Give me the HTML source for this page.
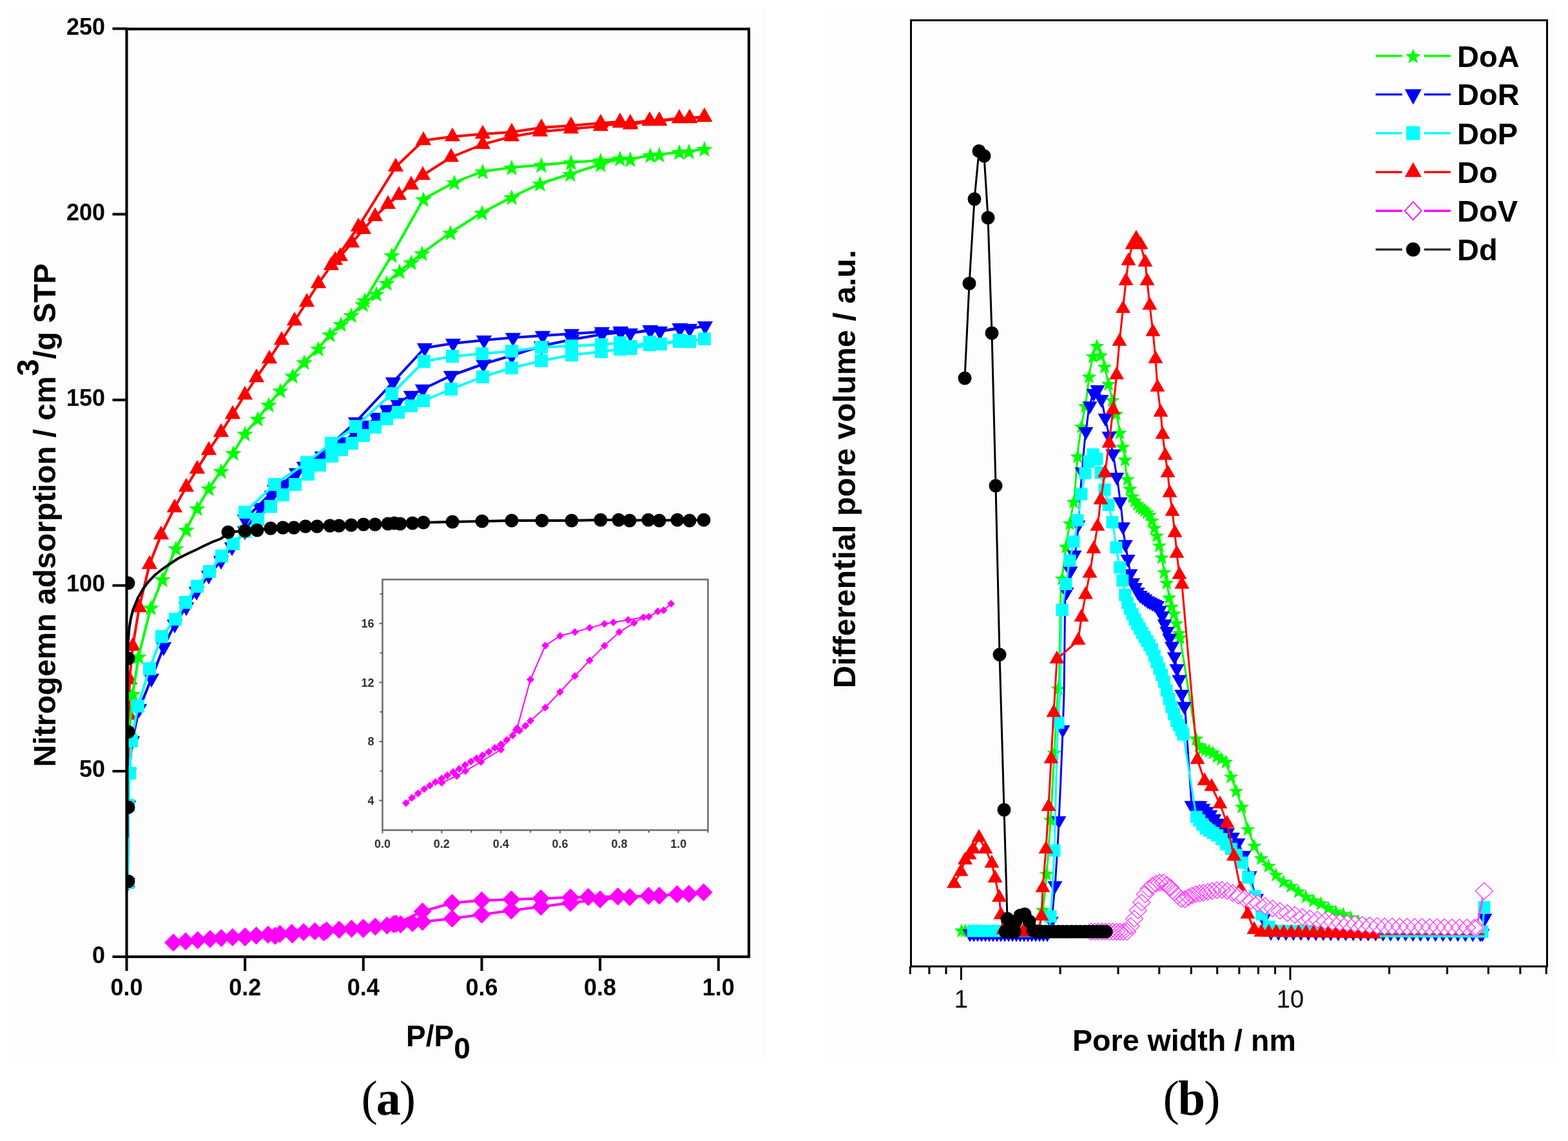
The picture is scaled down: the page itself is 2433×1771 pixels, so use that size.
<!DOCTYPE html>
<html><head><meta charset="utf-8"><title>Figure</title><style>html,body{margin:0;padding:0;background:#fff;}svg{display:block;}</style></head><body>
<svg width="2433" height="1771" viewBox="0 0 2433 1771">
<defs><clipPath id="ca"><rect x="196.5" y="45" width="965.5" height="1440"/></clipPath><clipPath id="cb"><rect x="1413.5" y="31.5" width="987" height="1468.5"/></clipPath><clipPath id="ci"><rect x="593.5" y="899.5" width="505" height="389"/></clipPath></defs>
<rect x="0" y="0" width="2433" height="1771" fill="#ffffff"/>
<rect x="12.6" y="11.2" width="1175.8" height="1633.8" fill="#fdfdfd"/>
<rect x="1277.6" y="11.2" width="1139.4" height="1632.8" fill="#fdfdfd"/>
<g clip-path="url(#ca)">
<path d="M198 1370L199 1200L200 1110L201 1055L206 1003L216 943L232 876L250 830L271 788L289 756L306 728L324 699L343 671L361 643L380 613L398 586L418 557L437 528L457 498L476 469L494 440L514 412L528 398L546 377L564 356L582 336L602 317L619 303L638 287L656 272L700 244L749 224L794 212L838 204.6L886 200L932 196L962 191L978 193.5L1008 188L1023 188L1054 184L1070 184L1093 182 M1093 181L1070 183L1054 183.6L1023 187L1008 187L978 191L962 189L932 191L886 195L840 198L794 205L749 208L702 212L657 218L614 259L556 352L520 404" fill="none" stroke="#ff0000" stroke-width="4" stroke-linejoin="round"/>
<path d="M198 1355.7L210.2 1377.2L185.8 1377.2ZM199 1185.7L211.2 1207.2L186.8 1207.2ZM200 1095.7L212.2 1117.2L187.8 1117.2ZM201 1040.7L213.2 1062.2L188.8 1062.2ZM206 988.7L218.2 1010.2L193.8 1010.2ZM216 928.7L228.2 950.2L203.8 950.2ZM232 861.7L244.2 883.2L219.8 883.2ZM250 815.7L262.2 837.2L237.8 837.2ZM271 773.7L283.2 795.2L258.8 795.2ZM289 741.7L301.2 763.2L276.8 763.2ZM306 713.7L318.2 735.2L293.8 735.2ZM324 684.7L336.2 706.2L311.8 706.2ZM343 656.7L355.2 678.2L330.8 678.2ZM361 628.7L373.2 650.2L348.8 650.2ZM380 598.7L392.2 620.2L367.8 620.2ZM398 571.7L410.2 593.2L385.8 593.2ZM418 542.7L430.2 564.2L405.8 564.2ZM437 513.7L449.2 535.2L424.8 535.2ZM457 483.7L469.2 505.2L444.8 505.2ZM476 454.7L488.2 476.2L463.8 476.2ZM494 425.7L506.2 447.2L481.8 447.2ZM514 397.7L526.2 419.2L501.8 419.2ZM528 383.7L540.2 405.2L515.8 405.2ZM546 362.7L558.2 384.2L533.8 384.2ZM564 341.7L576.2 363.2L551.8 363.2ZM582 321.7L594.2 343.2L569.8 343.2ZM602 302.7L614.2 324.2L589.8 324.2ZM619 288.7L631.2 310.2L606.8 310.2ZM638 272.7L650.2 294.2L625.8 294.2ZM656 257.7L668.2 279.2L643.8 279.2ZM700 229.7L712.2 251.2L687.8 251.2ZM749 209.7L761.2 231.2L736.8 231.2ZM794 197.7L806.2 219.2L781.8 219.2ZM838 190.3L850.2 211.8L825.8 211.8ZM886 185.7L898.2 207.2L873.8 207.2ZM932 181.7L944.2 203.2L919.8 203.2ZM962 176.7L974.2 198.2L949.8 198.2ZM978 179.2L990.2 200.7L965.8 200.7ZM1008 173.7L1020.2 195.2L995.8 195.2ZM1023 173.7L1035.2 195.2L1010.8 195.2ZM1054 169.7L1066.2 191.2L1041.8 191.2ZM1070 169.7L1082.2 191.2L1057.8 191.2ZM1093 167.7L1105.2 189.2L1080.8 189.2ZM1093 166.7L1105.2 188.2L1080.8 188.2ZM1070 168.7L1082.2 190.2L1057.8 190.2ZM1054 169.3L1066.2 190.8L1041.8 190.8ZM1023 172.7L1035.2 194.2L1010.8 194.2ZM1008 172.7L1020.2 194.2L995.8 194.2ZM978 176.7L990.2 198.2L965.8 198.2ZM962 174.7L974.2 196.2L949.8 196.2ZM932 176.7L944.2 198.2L919.8 198.2ZM886 180.7L898.2 202.2L873.8 202.2ZM840 183.7L852.2 205.2L827.8 205.2ZM794 190.7L806.2 212.2L781.8 212.2ZM749 193.7L761.2 215.2L736.8 215.2ZM702 197.7L714.2 219.2L689.8 219.2ZM657 203.7L669.2 225.2L644.8 225.2ZM614 244.7L626.2 266.2L601.8 266.2ZM556 337.7L568.2 359.2L543.8 359.2ZM520 389.7L532.2 411.2L507.8 411.2Z" fill="#ff0000"/>
<path d="M200 1140L206 1077L215 1019L234 943L252 899L273 851L289 822L306 789L324 758L343 731L362 703L380 673L400 650L417 628L435 606L454 583L472 562L494 541L512 519L529 503L545 489L563 472L584 456L600 439L620 421L638 407L655 393L699 361L748 330L794 306L838 285L885 270L932 255L962 246L978 247L1009 241L1023 240L1054 236L1069 235L1093 231 M1093 231L1069 235L1054 236L1023 240L1009 241L978 247L962 246L932 249L886 252L840 256L794 260L749 266L705 283L657 309L608 396L566 466" fill="none" stroke="#00ff00" stroke-width="4" stroke-linejoin="round"/>
<path d="M200 1127.8L203.3 1136.8L212.8 1137.2L205.4 1143.1L207.9 1152.3L200 1147L192.1 1152.3L194.6 1143.1L187.2 1137.2L196.7 1136.8ZM206 1064.8L209.3 1073.8L218.8 1074.2L211.4 1080.1L213.9 1089.3L206 1084L198.1 1089.3L200.6 1080.1L193.2 1074.2L202.7 1073.8ZM215 1006.9L218.3 1015.8L227.8 1016.2L220.4 1022.1L222.9 1031.3L215 1026L207.1 1031.3L209.6 1022.1L202.2 1016.2L211.7 1015.8ZM234 930.9L237.3 939.8L246.8 940.2L239.4 946.1L241.9 955.3L234 950L226.1 955.3L228.6 946.1L221.2 940.2L230.7 939.8ZM252 886.9L255.3 895.8L264.8 896.2L257.4 902.1L259.9 911.3L252 906L244.1 911.3L246.6 902.1L239.2 896.2L248.7 895.8ZM273 838.9L276.3 847.8L285.8 848.2L278.4 854.1L280.9 863.3L273 858L265.1 863.3L267.6 854.1L260.2 848.2L269.7 847.8ZM289 809.9L292.3 818.8L301.8 819.2L294.4 825.1L296.9 834.3L289 829L281.1 834.3L283.6 825.1L276.2 819.2L285.7 818.8ZM306 776.9L309.3 785.8L318.8 786.2L311.4 792.1L313.9 801.3L306 796L298.1 801.3L300.6 792.1L293.2 786.2L302.7 785.8ZM324 745.9L327.3 754.8L336.8 755.2L329.4 761.1L331.9 770.3L324 765L316.1 770.3L318.6 761.1L311.2 755.2L320.7 754.8ZM343 718.9L346.3 727.8L355.8 728.2L348.4 734.1L350.9 743.3L343 738L335.1 743.3L337.6 734.1L330.2 728.2L339.7 727.8ZM362 690.9L365.3 699.8L374.8 700.2L367.4 706.1L369.9 715.3L362 710L354.1 715.3L356.6 706.1L349.2 700.2L358.7 699.8ZM380 660.9L383.3 669.8L392.8 670.2L385.4 676.1L387.9 685.3L380 680L372.1 685.3L374.6 676.1L367.2 670.2L376.7 669.8ZM400 637.9L403.3 646.8L412.8 647.2L405.4 653.1L407.9 662.3L400 657L392.1 662.3L394.6 653.1L387.2 647.2L396.7 646.8ZM417 615.9L420.3 624.8L429.8 625.2L422.4 631.1L424.9 640.3L417 635L409.1 640.3L411.6 631.1L404.2 625.2L413.7 624.8ZM435 593.9L438.3 602.8L447.8 603.2L440.4 609.1L442.9 618.3L435 613L427.1 618.3L429.6 609.1L422.2 603.2L431.7 602.8ZM454 570.9L457.3 579.8L466.8 580.2L459.4 586.1L461.9 595.3L454 590L446.1 595.3L448.6 586.1L441.2 580.2L450.7 579.8ZM472 549.9L475.3 558.8L484.8 559.2L477.4 565.1L479.9 574.3L472 569L464.1 574.3L466.6 565.1L459.2 559.2L468.7 558.8ZM494 528.9L497.3 537.8L506.8 538.2L499.4 544.1L501.9 553.3L494 548L486.1 553.3L488.6 544.1L481.2 538.2L490.7 537.8ZM512 506.9L515.3 515.8L524.8 516.2L517.4 522.1L519.9 531.3L512 526L504.1 531.3L506.6 522.1L499.2 516.2L508.7 515.8ZM529 490.9L532.3 499.8L541.8 500.2L534.4 506.1L536.9 515.3L529 510L521.1 515.3L523.6 506.1L516.2 500.2L525.7 499.8ZM545 476.9L548.3 485.8L557.8 486.2L550.4 492.1L552.9 501.3L545 496L537.1 501.3L539.6 492.1L532.2 486.2L541.7 485.8ZM563 459.9L566.3 468.8L575.8 469.2L568.4 475.1L570.9 484.3L563 479L555.1 484.3L557.6 475.1L550.2 469.2L559.7 468.8ZM584 443.9L587.3 452.8L596.8 453.2L589.4 459.1L591.9 468.3L584 463L576.1 468.3L578.6 459.1L571.2 453.2L580.7 452.8ZM600 426.9L603.3 435.8L612.8 436.2L605.4 442.1L607.9 451.3L600 446L592.1 451.3L594.6 442.1L587.2 436.2L596.7 435.8ZM620 408.9L623.3 417.8L632.8 418.2L625.4 424.1L627.9 433.3L620 428L612.1 433.3L614.6 424.1L607.2 418.2L616.7 417.8ZM638 394.9L641.3 403.8L650.8 404.2L643.4 410.1L645.9 419.3L638 414L630.1 419.3L632.6 410.1L625.2 404.2L634.7 403.8ZM655 380.9L658.3 389.8L667.8 390.2L660.4 396.1L662.9 405.3L655 400L647.1 405.3L649.6 396.1L642.2 390.2L651.7 389.8ZM699 348.9L702.3 357.8L711.8 358.2L704.4 364.1L706.9 373.3L699 368L691.1 373.3L693.6 364.1L686.2 358.2L695.7 357.8ZM748 317.9L751.3 326.8L760.8 327.2L753.4 333.1L755.9 342.3L748 337L740.1 342.3L742.6 333.1L735.2 327.2L744.7 326.8ZM794 293.9L797.3 302.8L806.8 303.2L799.4 309.1L801.9 318.3L794 313L786.1 318.3L788.6 309.1L781.2 303.2L790.7 302.8ZM838 272.9L841.3 281.8L850.8 282.2L843.4 288.1L845.9 297.3L838 292L830.1 297.3L832.6 288.1L825.2 282.2L834.7 281.8ZM885 257.9L888.3 266.8L897.8 267.2L890.4 273.1L892.9 282.3L885 277L877.1 282.3L879.6 273.1L872.2 267.2L881.7 266.8ZM932 242.8L935.3 251.8L944.8 252.2L937.4 258.1L939.9 267.3L932 262L924.1 267.3L926.6 258.1L919.2 252.2L928.7 251.8ZM962 233.8L965.3 242.8L974.8 243.2L967.4 249.1L969.9 258.3L962 253L954.1 258.3L956.6 249.1L949.2 243.2L958.7 242.8ZM978 234.8L981.3 243.8L990.8 244.2L983.4 250.1L985.9 259.3L978 254L970.1 259.3L972.6 250.1L965.2 244.2L974.7 243.8ZM1009 228.8L1012.3 237.8L1021.8 238.2L1014.4 244.1L1016.9 253.3L1009 248L1001.1 253.3L1003.6 244.1L996.2 238.2L1005.7 237.8ZM1023 227.8L1026.3 236.8L1035.8 237.2L1028.4 243.1L1030.9 252.3L1023 247L1015.1 252.3L1017.6 243.1L1010.2 237.2L1019.7 236.8ZM1054 223.8L1057.3 232.8L1066.8 233.2L1059.4 239.1L1061.9 248.3L1054 243L1046.1 248.3L1048.6 239.1L1041.2 233.2L1050.7 232.8ZM1069 222.8L1072.3 231.8L1081.8 232.2L1074.4 238.1L1076.9 247.3L1069 242L1061.1 247.3L1063.6 238.1L1056.2 232.2L1065.7 231.8ZM1093 218.8L1096.3 227.8L1105.8 228.2L1098.4 234.1L1100.9 243.3L1093 238L1085.1 243.3L1087.6 234.1L1080.2 228.2L1089.7 227.8ZM1093 218.8L1096.3 227.8L1105.8 228.2L1098.4 234.1L1100.9 243.3L1093 238L1085.1 243.3L1087.6 234.1L1080.2 228.2L1089.7 227.8ZM1069 222.8L1072.3 231.8L1081.8 232.2L1074.4 238.1L1076.9 247.3L1069 242L1061.1 247.3L1063.6 238.1L1056.2 232.2L1065.7 231.8ZM1054 223.8L1057.3 232.8L1066.8 233.2L1059.4 239.1L1061.9 248.3L1054 243L1046.1 248.3L1048.6 239.1L1041.2 233.2L1050.7 232.8ZM1023 227.8L1026.3 236.8L1035.8 237.2L1028.4 243.1L1030.9 252.3L1023 247L1015.1 252.3L1017.6 243.1L1010.2 237.2L1019.7 236.8ZM1009 228.8L1012.3 237.8L1021.8 238.2L1014.4 244.1L1016.9 253.3L1009 248L1001.1 253.3L1003.6 244.1L996.2 238.2L1005.7 237.8ZM978 234.8L981.3 243.8L990.8 244.2L983.4 250.1L985.9 259.3L978 254L970.1 259.3L972.6 250.1L965.2 244.2L974.7 243.8ZM962 233.8L965.3 242.8L974.8 243.2L967.4 249.1L969.9 258.3L962 253L954.1 258.3L956.6 249.1L949.2 243.2L958.7 242.8ZM932 236.8L935.3 245.8L944.8 246.2L937.4 252.1L939.9 261.3L932 256L924.1 261.3L926.6 252.1L919.2 246.2L928.7 245.8ZM886 239.8L889.3 248.8L898.8 249.2L891.4 255.1L893.9 264.3L886 259L878.1 264.3L880.6 255.1L873.2 249.2L882.7 248.8ZM840 243.8L843.3 252.8L852.8 253.2L845.4 259.1L847.9 268.3L840 263L832.1 268.3L834.6 259.1L827.2 253.2L836.7 252.8ZM794 247.8L797.3 256.8L806.8 257.2L799.4 263.1L801.9 272.3L794 267L786.1 272.3L788.6 263.1L781.2 257.2L790.7 256.8ZM749 253.8L752.3 262.8L761.8 263.2L754.4 269.1L756.9 278.3L749 273L741.1 278.3L743.6 269.1L736.2 263.2L745.7 262.8ZM705 270.9L708.3 279.8L717.8 280.2L710.4 286.1L712.9 295.3L705 290L697.1 295.3L699.6 286.1L692.2 280.2L701.7 279.8ZM657 296.9L660.3 305.8L669.8 306.2L662.4 312.1L664.9 321.3L657 316L649.1 321.3L651.6 312.1L644.2 306.2L653.7 305.8ZM608 383.9L611.3 392.8L620.8 393.2L613.4 399.1L615.9 408.3L608 403L600.1 408.3L602.6 399.1L595.2 393.2L604.7 392.8ZM566 453.9L569.3 462.8L578.8 463.2L571.4 469.1L573.9 478.3L566 473L558.1 478.3L560.6 469.1L553.2 463.2L562.7 462.8Z" fill="#00ff00"/>
<path d="M198 1370L199 1250L200 1200L205 1150L216 1100L235 1053L254 1004L271 969L289 942L305 918L324 893L343 870L360 849L380 824L404 788L422 769L442 752L460 734L480 720L500 708L516 697L532 686L550 672L568 660L584 648L600 636L616 625L638 614L656 604L700 583L750 565L794 552L840 537L887 527L934 519L963 516L978 517L1009 513L1024 514L1055 510L1070 510L1094 506 M1094 506L1070 510L1055 509L1024 514L1009 512L978 517L963 514L934 515L887 518L842 521L796 524L751 528L703 533L659 540L610 593L552 655L518 686L472 724L426 760L380 806" fill="none" stroke="#0000ff" stroke-width="4" stroke-linejoin="round"/>
<path d="M198 1384.3L185.8 1362.8L210.2 1362.8ZM199 1264.3L186.8 1242.8L211.2 1242.8ZM200 1214.3L187.8 1192.8L212.2 1192.8ZM205 1164.3L192.8 1142.8L217.2 1142.8ZM216 1114.3L203.8 1092.8L228.2 1092.8ZM235 1067.3L222.8 1045.8L247.2 1045.8ZM254 1018.3L241.8 996.8L266.2 996.8ZM271 983.3L258.8 961.8L283.2 961.8ZM289 956.3L276.8 934.8L301.2 934.8ZM305 932.3L292.8 910.8L317.2 910.8ZM324 907.3L311.8 885.8L336.2 885.8ZM343 884.3L330.8 862.8L355.2 862.8ZM360 863.3L347.8 841.8L372.2 841.8ZM380 838.3L367.8 816.8L392.2 816.8ZM404 802.3L391.8 780.8L416.2 780.8ZM422 783.3L409.8 761.8L434.2 761.8ZM442 766.3L429.8 744.8L454.2 744.8ZM460 748.3L447.8 726.8L472.2 726.8ZM480 734.3L467.8 712.8L492.2 712.8ZM500 722.3L487.8 700.8L512.2 700.8ZM516 711.3L503.8 689.8L528.2 689.8ZM532 700.3L519.8 678.8L544.2 678.8ZM550 686.3L537.8 664.8L562.2 664.8ZM568 674.3L555.8 652.8L580.2 652.8ZM584 662.3L571.8 640.8L596.2 640.8ZM600 650.3L587.8 628.8L612.2 628.8ZM616 639.3L603.8 617.8L628.2 617.8ZM638 628.3L625.8 606.8L650.2 606.8ZM656 618.3L643.8 596.8L668.2 596.8ZM700 597.3L687.8 575.8L712.2 575.8ZM750 579.3L737.8 557.8L762.2 557.8ZM794 566.3L781.8 544.8L806.2 544.8ZM840 551.3L827.8 529.8L852.2 529.8ZM887 541.3L874.8 519.8L899.2 519.8ZM934 533.3L921.8 511.8L946.2 511.8ZM963 530.3L950.8 508.8L975.2 508.8ZM978 531.3L965.8 509.8L990.2 509.8ZM1009 527.3L996.8 505.8L1021.2 505.8ZM1024 528.3L1011.8 506.8L1036.2 506.8ZM1055 524.3L1042.8 502.8L1067.2 502.8ZM1070 524.3L1057.8 502.8L1082.2 502.8ZM1094 520.3L1081.8 498.8L1106.2 498.8ZM1094 520.3L1081.8 498.8L1106.2 498.8ZM1070 524.3L1057.8 502.8L1082.2 502.8ZM1055 523.3L1042.8 501.8L1067.2 501.8ZM1024 528.3L1011.8 506.8L1036.2 506.8ZM1009 526.3L996.8 504.8L1021.2 504.8ZM978 531.3L965.8 509.8L990.2 509.8ZM963 528.3L950.8 506.8L975.2 506.8ZM934 529.3L921.8 507.8L946.2 507.8ZM887 532.3L874.8 510.8L899.2 510.8ZM842 535.3L829.8 513.8L854.2 513.8ZM796 538.3L783.8 516.8L808.2 516.8ZM751 542.3L738.8 520.8L763.2 520.8ZM703 547.3L690.8 525.8L715.2 525.8ZM659 554.3L646.8 532.8L671.2 532.8ZM610 607.3L597.8 585.8L622.2 585.8ZM552 669.3L539.8 647.8L564.2 647.8ZM518 700.3L505.8 678.8L530.2 678.8ZM472 738.3L459.8 716.8L484.2 716.8ZM426 774.3L413.8 752.8L438.2 752.8ZM380 820.3L367.8 798.8L392.2 798.8Z" fill="#0000ff"/>
<path d="M198 1370L199 1250L201 1200L204 1150L214 1096L232 1038L251 988L272 961L288 935L306 910L325 887L344 863L362 844L380 825L400 806L420 786L439 768L458 752L478 736L496 722L515 708L530 698L546 688L564 676L582 663L600 650L618 640L638 630L657 622L700 604L749 585L794 571L840 560L887 551L933 546L962 542L979 541L1008 535L1025 534L1054 530L1070 530L1093 526 M1093 526L1070 530L1054 528L1025 534L1008 531L979 538L962 532L933 535L887 537L840 539L794 545L748 549L702 553L658 561L608 611L552 662L514 688L476 718L426 752L380 795" fill="none" stroke="#00ffff" stroke-width="4" stroke-linejoin="round"/>
<path d="M188 1360h20v20h-20ZM189 1240h20v20h-20ZM191 1190h20v20h-20ZM194 1140h20v20h-20ZM204 1086h20v20h-20ZM222 1028h20v20h-20ZM241 978h20v20h-20ZM262 951h20v20h-20ZM278 925h20v20h-20ZM296 900h20v20h-20ZM315 877h20v20h-20ZM334 853h20v20h-20ZM352 834h20v20h-20ZM370 815h20v20h-20ZM390 796h20v20h-20ZM410 776h20v20h-20ZM429 758h20v20h-20ZM448 742h20v20h-20ZM468 726h20v20h-20ZM486 712h20v20h-20ZM505 698h20v20h-20ZM520 688h20v20h-20ZM536 678h20v20h-20ZM554 666h20v20h-20ZM572 653h20v20h-20ZM590 640h20v20h-20ZM608 630h20v20h-20ZM628 620h20v20h-20ZM647 612h20v20h-20ZM690 594h20v20h-20ZM739 575h20v20h-20ZM784 561h20v20h-20ZM830 550h20v20h-20ZM877 541h20v20h-20ZM923 536h20v20h-20ZM952 532h20v20h-20ZM969 531h20v20h-20ZM998 525h20v20h-20ZM1015 524h20v20h-20ZM1044 520h20v20h-20ZM1060 520h20v20h-20ZM1083 516h20v20h-20ZM1083 516h20v20h-20ZM1060 520h20v20h-20ZM1044 518h20v20h-20ZM1015 524h20v20h-20ZM998 521h20v20h-20ZM969 528h20v20h-20ZM952 522h20v20h-20ZM923 525h20v20h-20ZM877 527h20v20h-20ZM830 529h20v20h-20ZM784 535h20v20h-20ZM738 539h20v20h-20ZM692 543h20v20h-20ZM648 551h20v20h-20ZM598 601h20v20h-20ZM542 652h20v20h-20ZM504 678h20v20h-20ZM466 708h20v20h-20ZM416 742h20v20h-20ZM370 785h20v20h-20Z" fill="#00ffff"/>
<path d="M269 1463L288 1460.9L306.7 1459.2L326 1457.5L343.4 1456.1L360.9 1454.7L380.2 1453.4L397.6 1452.2L416 1450.8L434.3 1449.6L452.7 1448.1L471.1 1446.7L488.5 1445.5L506.9 1444.3L526.2 1442.9L545.5 1441.4L563.8 1440L582.2 1438.3L600.6 1436.5L610.7 1434.5L621.7 1434.7L640 1432.7L655.6 1430.8L701.6 1425.7L747.5 1419.5L793.4 1413.3L839.3 1407.2L885.2 1401.5L931.1 1396.1L977.1 1392.6L1006.4 1390.4L1023 1390.2L1050.5 1388.1L1068.9 1387.6L1091.8 1385 M1091.8 1385L1068.9 1387.6L1050.5 1388.1L1023 1390.2L1006.4 1390.4L958.7 1391.4L912.8 1392.3L885.2 1392.9L839.3 1394.5L793.4 1396.1L747.5 1397.6L701.6 1401.5L655.6 1414.7L614.3 1433.7L563.8 1442.1L502.3 1446.9L453.6 1450.4L427 1452.4L380.2 1455" fill="none" stroke="#ff00ff" stroke-width="4" stroke-linejoin="round"/>
<path d="M269 1449L283 1463L269 1477L255 1463ZM288 1446.9L302 1460.9L288 1474.9L274 1460.9ZM306.7 1445.2L320.7 1459.2L306.7 1473.2L292.7 1459.2ZM326 1443.5L340 1457.5L326 1471.5L312 1457.5ZM343.4 1442.1L357.4 1456.1L343.4 1470.1L329.4 1456.1ZM360.9 1440.7L374.9 1454.7L360.9 1468.7L346.9 1454.7ZM380.2 1439.4L394.2 1453.4L380.2 1467.4L366.2 1453.4ZM397.6 1438.2L411.6 1452.2L397.6 1466.2L383.6 1452.2ZM416 1436.8L430 1450.8L416 1464.8L402 1450.8ZM434.3 1435.6L448.3 1449.6L434.3 1463.6L420.3 1449.6ZM452.7 1434.1L466.7 1448.1L452.7 1462.1L438.7 1448.1ZM471.1 1432.7L485.1 1446.7L471.1 1460.7L457.1 1446.7ZM488.5 1431.5L502.5 1445.5L488.5 1459.5L474.5 1445.5ZM506.9 1430.3L520.9 1444.3L506.9 1458.3L492.9 1444.3ZM526.2 1428.9L540.2 1442.9L526.2 1456.9L512.2 1442.9ZM545.5 1427.4L559.5 1441.4L545.5 1455.4L531.5 1441.4ZM563.8 1426L577.8 1440L563.8 1454L549.8 1440ZM582.2 1424.3L596.2 1438.3L582.2 1452.3L568.2 1438.3ZM600.6 1422.5L614.6 1436.5L600.6 1450.5L586.6 1436.5ZM610.7 1420.5L624.7 1434.5L610.7 1448.5L596.7 1434.5ZM621.7 1420.7L635.7 1434.7L621.7 1448.7L607.7 1434.7ZM640 1418.7L654 1432.7L640 1446.7L626 1432.7ZM655.6 1416.8L669.6 1430.8L655.6 1444.8L641.6 1430.8ZM701.6 1411.7L715.6 1425.7L701.6 1439.7L687.6 1425.7ZM747.5 1405.5L761.5 1419.5L747.5 1433.5L733.5 1419.5ZM793.4 1399.3L807.4 1413.3L793.4 1427.3L779.4 1413.3ZM839.3 1393.2L853.3 1407.2L839.3 1421.2L825.3 1407.2ZM885.2 1387.5L899.2 1401.5L885.2 1415.5L871.2 1401.5ZM931.1 1382.1L945.1 1396.1L931.1 1410.1L917.1 1396.1ZM977.1 1378.6L991.1 1392.6L977.1 1406.6L963.1 1392.6ZM1006.4 1376.4L1020.4 1390.4L1006.4 1404.4L992.4 1390.4ZM1023 1376.2L1037 1390.2L1023 1404.2L1009 1390.2ZM1050.5 1374.1L1064.5 1388.1L1050.5 1402.1L1036.5 1388.1ZM1068.9 1373.6L1082.9 1387.6L1068.9 1401.6L1054.9 1387.6ZM1091.8 1371L1105.8 1385L1091.8 1399L1077.8 1385ZM1091.8 1371L1105.8 1385L1091.8 1399L1077.8 1385ZM1068.9 1373.6L1082.9 1387.6L1068.9 1401.6L1054.9 1387.6ZM1050.5 1374.1L1064.5 1388.1L1050.5 1402.1L1036.5 1388.1ZM1023 1376.2L1037 1390.2L1023 1404.2L1009 1390.2ZM1006.4 1376.4L1020.4 1390.4L1006.4 1404.4L992.4 1390.4ZM958.7 1377.4L972.7 1391.4L958.7 1405.4L944.7 1391.4ZM912.8 1378.3L926.8 1392.3L912.8 1406.3L898.8 1392.3ZM885.2 1378.9L899.2 1392.9L885.2 1406.9L871.2 1392.9ZM839.3 1380.5L853.3 1394.5L839.3 1408.5L825.3 1394.5ZM793.4 1382.1L807.4 1396.1L793.4 1410.1L779.4 1396.1ZM747.5 1383.6L761.5 1397.6L747.5 1411.6L733.5 1397.6ZM701.6 1387.5L715.6 1401.5L701.6 1415.5L687.6 1401.5ZM655.6 1400.7L669.6 1414.7L655.6 1428.7L641.6 1414.7ZM614.3 1419.7L628.3 1433.7L614.3 1447.7L600.3 1433.7ZM563.8 1428.1L577.8 1442.1L563.8 1456.1L549.8 1442.1ZM502.3 1432.9L516.3 1446.9L502.3 1460.9L488.3 1446.9ZM453.6 1436.4L467.6 1450.4L453.6 1464.4L439.6 1450.4ZM427 1438.4L441 1452.4L427 1466.4L413 1452.4ZM380.2 1441L394.2 1455L380.2 1469L366.2 1455Z" fill="#ff00ff"/>
<path d="M197.5 1300L197.6 1100L197.8 1040L198.5 1000L200.5 975L203 960L206.5 946L214 928L222 914L231 902L241 892L251 884L261 877L276 867L292 859L305 853L317 847L330 841L343 836L354 827L354 826L380 824L399 823L420 820L439 819L456 819L474 817L492 817L512 816L526 816L545 815L564 814L582 814L602 813L612 812L621 813L640 812L657 811L702 810L748 809L794 808L841 808L887 808L932 807L960 807L977 808L1006 807L1023 808L1051 807L1070 808L1092 807" fill="none" stroke="#000" stroke-width="4"/>
<path d="M343.5 826a10.5 10.5 0 1 0 21 0a10.5 10.5 0 1 0 -21 0ZM369.5 824a10.5 10.5 0 1 0 21 0a10.5 10.5 0 1 0 -21 0ZM388.5 823a10.5 10.5 0 1 0 21 0a10.5 10.5 0 1 0 -21 0ZM409.5 820a10.5 10.5 0 1 0 21 0a10.5 10.5 0 1 0 -21 0ZM428.5 819a10.5 10.5 0 1 0 21 0a10.5 10.5 0 1 0 -21 0ZM445.5 819a10.5 10.5 0 1 0 21 0a10.5 10.5 0 1 0 -21 0ZM463.5 817a10.5 10.5 0 1 0 21 0a10.5 10.5 0 1 0 -21 0ZM481.5 817a10.5 10.5 0 1 0 21 0a10.5 10.5 0 1 0 -21 0ZM501.5 816a10.5 10.5 0 1 0 21 0a10.5 10.5 0 1 0 -21 0ZM515.5 816a10.5 10.5 0 1 0 21 0a10.5 10.5 0 1 0 -21 0ZM534.5 815a10.5 10.5 0 1 0 21 0a10.5 10.5 0 1 0 -21 0ZM553.5 814a10.5 10.5 0 1 0 21 0a10.5 10.5 0 1 0 -21 0ZM571.5 814a10.5 10.5 0 1 0 21 0a10.5 10.5 0 1 0 -21 0ZM591.5 813a10.5 10.5 0 1 0 21 0a10.5 10.5 0 1 0 -21 0ZM601.5 812a10.5 10.5 0 1 0 21 0a10.5 10.5 0 1 0 -21 0ZM610.5 813a10.5 10.5 0 1 0 21 0a10.5 10.5 0 1 0 -21 0ZM629.5 812a10.5 10.5 0 1 0 21 0a10.5 10.5 0 1 0 -21 0ZM646.5 811a10.5 10.5 0 1 0 21 0a10.5 10.5 0 1 0 -21 0ZM691.5 810a10.5 10.5 0 1 0 21 0a10.5 10.5 0 1 0 -21 0ZM737.5 809a10.5 10.5 0 1 0 21 0a10.5 10.5 0 1 0 -21 0ZM783.5 808a10.5 10.5 0 1 0 21 0a10.5 10.5 0 1 0 -21 0ZM830.5 808a10.5 10.5 0 1 0 21 0a10.5 10.5 0 1 0 -21 0ZM876.5 808a10.5 10.5 0 1 0 21 0a10.5 10.5 0 1 0 -21 0ZM921.5 807a10.5 10.5 0 1 0 21 0a10.5 10.5 0 1 0 -21 0ZM949.5 807a10.5 10.5 0 1 0 21 0a10.5 10.5 0 1 0 -21 0ZM966.5 808a10.5 10.5 0 1 0 21 0a10.5 10.5 0 1 0 -21 0ZM995.5 807a10.5 10.5 0 1 0 21 0a10.5 10.5 0 1 0 -21 0ZM1012.5 808a10.5 10.5 0 1 0 21 0a10.5 10.5 0 1 0 -21 0ZM1040.5 807a10.5 10.5 0 1 0 21 0a10.5 10.5 0 1 0 -21 0ZM1059.5 808a10.5 10.5 0 1 0 21 0a10.5 10.5 0 1 0 -21 0ZM1081.5 807a10.5 10.5 0 1 0 21 0a10.5 10.5 0 1 0 -21 0ZM188.5 1368a10.5 10.5 0 1 0 21 0a10.5 10.5 0 1 0 -21 0ZM188.5 1253a10.5 10.5 0 1 0 21 0a10.5 10.5 0 1 0 -21 0ZM188.5 1136a10.5 10.5 0 1 0 21 0a10.5 10.5 0 1 0 -21 0ZM188.5 1022a10.5 10.5 0 1 0 21 0a10.5 10.5 0 1 0 -21 0ZM188.5 905a10.5 10.5 0 1 0 21 0a10.5 10.5 0 1 0 -21 0Z" fill="#000"/>
</g>
<rect x="196.5" y="45" width="965.5" height="1440" fill="none" stroke="#000" stroke-width="4.2"/>
<path d="M174.5 1485H196.5M174.5 1196.9H196.5M174.5 908.8H196.5M174.5 620.7H196.5M174.5 332.6H196.5M174.5 44.5H196.5M196.5 1485V1507M380.2 1485V1507M563.8 1485V1507M747.5 1485V1507M931.1 1485V1507M1114.8 1485V1507" stroke="#000" stroke-width="4" fill="none"/>
<text x="163" y="1494.5" text-anchor="end" font-family="'Liberation Sans', Arial, Helvetica, sans-serif" font-weight="bold" font-size="36">0</text>
<text x="163" y="1206.4" text-anchor="end" font-family="'Liberation Sans', Arial, Helvetica, sans-serif" font-weight="bold" font-size="36">50</text>
<text x="163" y="918.3" text-anchor="end" font-family="'Liberation Sans', Arial, Helvetica, sans-serif" font-weight="bold" font-size="36">100</text>
<text x="163" y="630.2" text-anchor="end" font-family="'Liberation Sans', Arial, Helvetica, sans-serif" font-weight="bold" font-size="36">150</text>
<text x="163" y="342.1" text-anchor="end" font-family="'Liberation Sans', Arial, Helvetica, sans-serif" font-weight="bold" font-size="36">200</text>
<text x="163" y="54" text-anchor="end" font-family="'Liberation Sans', Arial, Helvetica, sans-serif" font-weight="bold" font-size="36">250</text>
<text x="196.5" y="1545" text-anchor="middle" font-family="'Liberation Sans', Arial, Helvetica, sans-serif" font-weight="bold" font-size="36">0.0</text>
<text x="380.2" y="1545" text-anchor="middle" font-family="'Liberation Sans', Arial, Helvetica, sans-serif" font-weight="bold" font-size="36">0.2</text>
<text x="563.8" y="1545" text-anchor="middle" font-family="'Liberation Sans', Arial, Helvetica, sans-serif" font-weight="bold" font-size="36">0.4</text>
<text x="747.5" y="1545" text-anchor="middle" font-family="'Liberation Sans', Arial, Helvetica, sans-serif" font-weight="bold" font-size="36">0.6</text>
<text x="931.1" y="1545" text-anchor="middle" font-family="'Liberation Sans', Arial, Helvetica, sans-serif" font-weight="bold" font-size="36">0.8</text>
<text x="1114.8" y="1545" text-anchor="middle" font-family="'Liberation Sans', Arial, Helvetica, sans-serif" font-weight="bold" font-size="36">1.0</text>
<text x="630" y="1624" font-family="'Liberation Sans', Arial, Helvetica, sans-serif" font-weight="bold" font-size="46">P/P<tspan dy="19">0</tspan></text>
<text transform="translate(86 1190.5) rotate(-90)" x="0" y="0" font-family="'Liberation Sans', Arial, Helvetica, sans-serif" font-weight="bold" font-size="47.7">Nitrogemn adsorption / cm<tspan dy="-26.5">3</tspan><tspan dy="26.5">/g STP</tspan></text>
<text x="601.8" y="1729.5" text-anchor="middle" font-family="'Liberation Serif', 'Times New Roman', serif" font-size="76" letter-spacing="-2">(<tspan font-weight="bold">a</tspan>)</text>
<rect x="593.5" y="899.5" width="505" height="389" fill="none" stroke="#707070" stroke-width="2.6"/>
<path d="M588.5 1242.4H593.5M589.5 1196.7H593.5M588.5 1150.9H593.5M589.5 1105.1H593.5M588.5 1059.3H593.5M589.5 1013.5H593.5M588.5 967.8H593.5M589.5 922H593.5M593.5 1288.5V1293.5M639.4 1288.5V1292.5M685.3 1288.5V1293.5M731.3 1288.5V1292.5M777.2 1288.5V1293.5M823.1 1288.5V1292.5M869 1288.5V1293.5M914.9 1288.5V1292.5M960.9 1288.5V1293.5M1006.8 1288.5V1292.5M1052.7 1288.5V1293.5M1098.6 1288.5V1292.5" stroke="#606060" stroke-width="2" fill="none"/>
<text x="580.5" y="1248.9" text-anchor="end" font-family="'Liberation Sans', Arial, Helvetica, sans-serif" font-weight="bold" font-size="18" fill="#303030">4</text>
<text x="580.5" y="1157.4" text-anchor="end" font-family="'Liberation Sans', Arial, Helvetica, sans-serif" font-weight="bold" font-size="18" fill="#303030">8</text>
<text x="580.5" y="1065.8" text-anchor="end" font-family="'Liberation Sans', Arial, Helvetica, sans-serif" font-weight="bold" font-size="18" fill="#303030">12</text>
<text x="580.5" y="974.3" text-anchor="end" font-family="'Liberation Sans', Arial, Helvetica, sans-serif" font-weight="bold" font-size="18" fill="#303030">16</text>
<text x="593.5" y="1316" text-anchor="middle" font-family="'Liberation Sans', Arial, Helvetica, sans-serif" font-weight="bold" font-size="18" fill="#303030">0.0</text>
<text x="685.3" y="1316" text-anchor="middle" font-family="'Liberation Sans', Arial, Helvetica, sans-serif" font-weight="bold" font-size="18" fill="#303030">0.2</text>
<text x="777.2" y="1316" text-anchor="middle" font-family="'Liberation Sans', Arial, Helvetica, sans-serif" font-weight="bold" font-size="18" fill="#303030">0.4</text>
<text x="869" y="1316" text-anchor="middle" font-family="'Liberation Sans', Arial, Helvetica, sans-serif" font-weight="bold" font-size="18" fill="#303030">0.6</text>
<text x="960.9" y="1316" text-anchor="middle" font-family="'Liberation Sans', Arial, Helvetica, sans-serif" font-weight="bold" font-size="18" fill="#303030">0.8</text>
<text x="1052.7" y="1316" text-anchor="middle" font-family="'Liberation Sans', Arial, Helvetica, sans-serif" font-weight="bold" font-size="18" fill="#303030">1.0</text>
<g clip-path="url(#ci)">
<path d="M629.8 1246.6L639.2 1238.3L648.6 1231.5L658.2 1224.8L667 1219.3L675.7 1213.8L685.3 1208.3L694.1 1203.5L703.2 1198.3L712.4 1193.5L721.6 1187.5L730.8 1182L739.5 1177L748.7 1172.4L758.4 1166.9L768 1160.7L777.2 1155.2L786.4 1148.4L795.5 1141.5L800.6 1133.3L806.1 1134.2L815.3 1126.4L823.1 1118.8L846.1 1098.2L869 1074L892 1049.2L914.9 1025L937.9 1002.3L960.9 981L983.8 966.8L998.5 958.1L1006.8 957.2L1020.6 949L1029.7 947.2L1041.2 936.9 M1041.2 936.9L1029.7 947.2L1020.6 949L1006.8 957.2L998.5 958.1L974.6 962.3L951.7 965.9L937.9 968.2L914.9 974.6L892 981L869 987L846.1 1002.1L823.1 1054.7L802.4 1130.3L777.2 1163.5L746.4 1182.5L722.1 1196.7L708.8 1204.4L685.3 1215" fill="none" stroke="#ff00ff" stroke-width="2"/>
<path d="M629.8 1240.6L635.8 1246.6L629.8 1252.6L623.8 1246.6ZM639.2 1232.3L645.2 1238.3L639.2 1244.3L633.2 1238.3ZM648.6 1225.5L654.6 1231.5L648.6 1237.5L642.6 1231.5ZM658.2 1218.8L664.2 1224.8L658.2 1230.8L652.2 1224.8ZM667 1213.3L673 1219.3L667 1225.3L661 1219.3ZM675.7 1207.8L681.7 1213.8L675.7 1219.8L669.7 1213.8ZM685.3 1202.3L691.3 1208.3L685.3 1214.3L679.3 1208.3ZM694.1 1197.5L700.1 1203.5L694.1 1209.5L688.1 1203.5ZM703.2 1192.3L709.2 1198.3L703.2 1204.3L697.2 1198.3ZM712.4 1187.5L718.4 1193.5L712.4 1199.5L706.4 1193.5ZM721.6 1181.5L727.6 1187.5L721.6 1193.5L715.6 1187.5ZM730.8 1176L736.8 1182L730.8 1188L724.8 1182ZM739.5 1171L745.5 1177L739.5 1183L733.5 1177ZM748.7 1166.4L754.7 1172.4L748.7 1178.4L742.7 1172.4ZM758.4 1160.9L764.4 1166.9L758.4 1172.9L752.4 1166.9ZM768 1154.7L774 1160.7L768 1166.7L762 1160.7ZM777.2 1149.2L783.2 1155.2L777.2 1161.2L771.2 1155.2ZM786.4 1142.4L792.4 1148.4L786.4 1154.4L780.4 1148.4ZM795.5 1135.5L801.5 1141.5L795.5 1147.5L789.5 1141.5ZM800.6 1127.3L806.6 1133.3L800.6 1139.3L794.6 1133.3ZM806.1 1128.2L812.1 1134.2L806.1 1140.2L800.1 1134.2ZM815.3 1120.4L821.3 1126.4L815.3 1132.4L809.3 1126.4ZM823.1 1112.8L829.1 1118.8L823.1 1124.8L817.1 1118.8ZM846.1 1092.2L852.1 1098.2L846.1 1104.2L840.1 1098.2ZM869 1068L875 1074L869 1080L863 1074ZM892 1043.2L898 1049.2L892 1055.2L886 1049.2ZM914.9 1019L920.9 1025L914.9 1031L908.9 1025ZM937.9 996.3L943.9 1002.3L937.9 1008.3L931.9 1002.3ZM960.9 975L966.9 981L960.9 987L954.9 981ZM983.8 960.8L989.8 966.8L983.8 972.8L977.8 966.8ZM998.5 952.1L1004.5 958.1L998.5 964.1L992.5 958.1ZM1006.8 951.2L1012.8 957.2L1006.8 963.2L1000.8 957.2ZM1020.6 943L1026.6 949L1020.6 955L1014.6 949ZM1029.7 941.2L1035.7 947.2L1029.7 953.2L1023.7 947.2ZM1041.2 930.9L1047.2 936.9L1041.2 942.9L1035.2 936.9ZM1041.2 930.9L1047.2 936.9L1041.2 942.9L1035.2 936.9ZM1029.7 941.2L1035.7 947.2L1029.7 953.2L1023.7 947.2ZM1020.6 943L1026.6 949L1020.6 955L1014.6 949ZM1006.8 951.2L1012.8 957.2L1006.8 963.2L1000.8 957.2ZM998.5 952.1L1004.5 958.1L998.5 964.1L992.5 958.1ZM974.6 956.3L980.6 962.3L974.6 968.3L968.6 962.3ZM951.7 959.9L957.7 965.9L951.7 971.9L945.7 965.9ZM937.9 962.2L943.9 968.2L937.9 974.2L931.9 968.2ZM914.9 968.6L920.9 974.6L914.9 980.6L908.9 974.6ZM892 975L898 981L892 987L886 981ZM869 981L875 987L869 993L863 987ZM846.1 996.1L852.1 1002.1L846.1 1008.1L840.1 1002.1ZM823.1 1048.7L829.1 1054.7L823.1 1060.7L817.1 1054.7ZM802.4 1124.3L808.4 1130.3L802.4 1136.3L796.4 1130.3ZM777.2 1157.5L783.2 1163.5L777.2 1169.5L771.2 1163.5ZM746.4 1176.5L752.4 1182.5L746.4 1188.5L740.4 1182.5ZM722.1 1190.7L728.1 1196.7L722.1 1202.7L716.1 1196.7ZM708.8 1198.4L714.8 1204.4L708.8 1210.4L702.8 1204.4ZM685.3 1209L691.3 1215L685.3 1221L679.3 1215Z" fill="#ff00ff"/>
</g>
<g clip-path="url(#cb)">
<path d="M1492 1444L1612 1446L1617 1420L1622 1380L1627 1320L1632 1240L1637 1150L1641 1080L1643.6 1050L1645 960L1646 914L1655 840L1667 773L1673 695L1679 655L1685 625L1691 576L1697 548L1703.6 533L1707 549L1712 560L1716 578L1721 600L1727 625L1733.5 647L1739 680L1745.4 709L1747.2 734L1752.6 756L1758 773L1767 785L1776 791L1785 800L1791 818L1796 834L1800 851L1803.5 869L1807 891L1811 907L1815 933L1822 953L1827 973L1831 989L1856 1146L1862 1160L1869 1163L1880 1166L1889 1174L1902 1181L1905 1192L1914.5 1217L1927 1252L1936 1286L1948.5 1318L1959 1335L1972 1347L1982 1360L1995 1371L2008 1377L2020 1388L2035 1396L2050 1402L2065 1411L2078 1417L2088 1419L2100 1426L2115 1433L2130 1438L2160 1442L2300 1444" fill="none" stroke="#00ff00" stroke-width="3" stroke-linejoin="round"/>
<path d="M1492 1433.2L1495 1441.1L1503.4 1441.5L1496.8 1446.8L1499.1 1454.9L1492 1450.2L1484.9 1454.9L1487.2 1446.8L1480.6 1441.5L1489 1441.1ZM1498 1433.3L1501 1441.2L1509.4 1441.6L1502.8 1446.9L1505.1 1455L1498 1450.3L1490.9 1455L1493.2 1446.9L1486.6 1441.6L1495 1441.2ZM1504 1433.4L1507 1441.3L1515.4 1441.7L1508.8 1447L1511.1 1455.1L1504 1450.4L1496.9 1455.1L1499.2 1447L1492.6 1441.7L1501 1441.3ZM1510 1433.5L1513 1441.4L1521.4 1441.8L1514.8 1447.1L1517.1 1455.2L1510 1450.5L1502.9 1455.2L1505.2 1447.1L1498.6 1441.8L1507 1441.4ZM1516 1433.6L1519 1441.5L1527.4 1441.9L1520.8 1447.2L1523.1 1455.3L1516 1450.6L1508.9 1455.3L1511.2 1447.2L1504.6 1441.9L1513 1441.5ZM1522 1433.7L1525 1441.6L1533.4 1442L1526.8 1447.3L1529.1 1455.4L1522 1450.7L1514.9 1455.4L1517.2 1447.3L1510.6 1442L1519 1441.6ZM1528 1433.8L1531 1441.7L1539.4 1442.1L1532.8 1447.4L1535.1 1455.5L1528 1450.8L1520.9 1455.5L1523.2 1447.4L1516.6 1442.1L1525 1441.7ZM1534 1433.9L1537 1441.8L1545.4 1442.2L1538.8 1447.5L1541.1 1455.6L1534 1450.9L1526.9 1455.6L1529.2 1447.5L1522.6 1442.2L1531 1441.8ZM1540 1434L1543 1441.9L1551.4 1442.3L1544.8 1447.6L1547.1 1455.7L1540 1451L1532.9 1455.7L1535.2 1447.6L1528.6 1442.3L1537 1441.9ZM1546 1434.1L1549 1442L1557.4 1442.4L1550.8 1447.7L1553.1 1455.8L1546 1451.1L1538.9 1455.8L1541.2 1447.7L1534.6 1442.4L1543 1442ZM1552 1434.2L1555 1442.1L1563.4 1442.5L1556.8 1447.8L1559.1 1455.9L1552 1451.2L1544.9 1455.9L1547.2 1447.8L1540.6 1442.5L1549 1442.1ZM1558 1434.3L1561 1442.2L1569.4 1442.6L1562.8 1447.9L1565.1 1456L1558 1451.3L1550.9 1456L1553.2 1447.9L1546.6 1442.6L1555 1442.2ZM1564 1434.4L1567 1442.3L1575.4 1442.7L1568.8 1448L1571.1 1456.1L1564 1451.4L1556.9 1456.1L1559.2 1448L1552.6 1442.7L1561 1442.3ZM1570 1434.5L1573 1442.4L1581.4 1442.8L1574.8 1448.1L1577.1 1456.2L1570 1451.5L1562.9 1456.2L1565.2 1448.1L1558.6 1442.8L1567 1442.4ZM1576 1434.6L1579 1442.5L1587.4 1442.9L1580.8 1448.2L1583.1 1456.3L1576 1451.6L1568.9 1456.3L1571.2 1448.2L1564.6 1442.9L1573 1442.5ZM1582 1434.7L1585 1442.6L1593.4 1443L1586.8 1448.3L1589.1 1456.4L1582 1451.7L1574.9 1456.4L1577.2 1448.3L1570.6 1443L1579 1442.6ZM1588 1434.8L1591 1442.7L1599.4 1443.1L1592.8 1448.4L1595.1 1456.5L1588 1451.8L1580.9 1456.5L1583.2 1448.4L1576.6 1443.1L1585 1442.7ZM1594 1434.9L1597 1442.8L1605.4 1443.2L1598.8 1448.5L1601.1 1456.6L1594 1451.9L1586.9 1456.6L1589.2 1448.5L1582.6 1443.2L1591 1442.8ZM1600 1435L1603 1442.9L1611.4 1443.3L1604.8 1448.6L1607.1 1456.7L1600 1452L1592.9 1456.7L1595.2 1448.6L1588.6 1443.3L1597 1442.9ZM1606 1435.1L1609 1443L1617.4 1443.4L1610.8 1448.7L1613.1 1456.8L1606 1452.1L1598.9 1456.8L1601.2 1448.7L1594.6 1443.4L1603 1443ZM1612 1435.2L1615 1443.1L1623.4 1443.5L1616.8 1448.8L1619.1 1456.9L1612 1452.2L1604.9 1456.9L1607.2 1448.8L1600.6 1443.5L1609 1443.1ZM1618 1401.2L1621 1409.1L1629.4 1409.5L1622.8 1414.8L1625.1 1422.9L1618 1418.2L1610.9 1422.9L1613.2 1414.8L1606.6 1409.5L1615 1409.1ZM1624 1345.2L1627 1353.1L1635.4 1353.5L1628.8 1358.8L1631.1 1366.9L1624 1362.2L1616.9 1366.9L1619.2 1358.8L1612.6 1353.5L1621 1353.1ZM1630 1261.2L1633 1269.1L1641.4 1269.5L1634.8 1274.8L1637.1 1282.9L1630 1278.2L1622.9 1282.9L1625.2 1274.8L1618.6 1269.5L1627 1269.1ZM1636 1157.2L1639 1165.1L1647.4 1165.5L1640.8 1170.8L1643.1 1178.9L1636 1174.2L1628.9 1178.9L1631.2 1170.8L1624.6 1165.5L1633 1165.1ZM1642 1057.7L1645 1065.6L1653.4 1066L1646.8 1071.2L1649.1 1079.4L1642 1074.7L1634.9 1079.4L1637.2 1071.2L1630.6 1066L1639 1065.6ZM1648 886.8L1651 894.7L1659.4 895L1652.8 900.3L1655.1 908.5L1648 903.8L1640.9 908.5L1643.2 900.3L1636.6 895L1645 894.7ZM1654 837.4L1657 845.3L1665.4 845.7L1658.8 851L1661.1 859.1L1654 854.5L1646.9 859.1L1649.2 851L1642.6 845.7L1651 845.3ZM1660 801.3L1663 809.2L1671.4 809.6L1664.8 814.8L1667.1 823L1660 818.3L1652.9 823L1655.2 814.8L1648.6 809.6L1657 809.2ZM1666 767.8L1669 775.7L1677.4 776.1L1670.8 781.3L1673.1 789.5L1666 784.8L1658.9 789.5L1661.2 781.3L1654.6 776.1L1663 775.7ZM1672 697.2L1675 705.1L1683.4 705.5L1676.8 710.8L1679.1 718.9L1672 714.2L1664.9 718.9L1667.2 710.8L1660.6 705.5L1669 705.1ZM1678 650.9L1681 658.8L1689.4 659.2L1682.8 664.4L1685.1 672.6L1678 667.9L1670.9 672.6L1673.2 664.4L1666.6 659.2L1675 658.8ZM1684 619.2L1687 627.1L1695.4 627.5L1688.8 632.8L1691.1 640.9L1684 636.2L1676.9 640.9L1679.2 632.8L1672.6 627.5L1681 627.1ZM1690 573.4L1693 581.3L1701.4 581.7L1694.8 586.9L1697.1 595.1L1690 590.4L1682.9 595.1L1685.2 586.9L1678.6 581.7L1687 581.3ZM1696 541.9L1699 549.8L1707.4 550.2L1700.8 555.4L1703.1 563.6L1696 558.9L1688.9 563.6L1691.2 555.4L1684.6 550.2L1693 549.8ZM1702 525.8L1705 533.8L1713.4 534.1L1706.8 539.4L1709.1 547.5L1702 542.9L1694.9 547.5L1697.2 539.4L1690.6 534.1L1699 533.8ZM1708 540.4L1711 548.3L1719.4 548.7L1712.8 554L1715.1 562.1L1708 557.4L1700.9 562.1L1703.2 554L1696.6 548.7L1705 548.3ZM1714 558.2L1717 566.1L1725.4 566.5L1718.8 571.8L1721.1 579.9L1714 575.2L1706.9 579.9L1709.2 571.8L1702.6 566.5L1711 566.1ZM1720 584.8L1723 592.7L1731.4 593.1L1724.8 598.4L1727.1 606.5L1720 601.8L1712.9 606.5L1715.2 598.4L1708.6 593.1L1717 592.7ZM1726 610L1729 618L1737.4 618.3L1730.8 623.6L1733.1 631.7L1726 627.1L1718.9 631.7L1721.2 623.6L1714.6 618.3L1723 618ZM1732 631.1L1735 639L1743.4 639.4L1736.8 644.7L1739.1 652.8L1732 648.2L1724.9 652.8L1727.2 644.7L1720.6 639.4L1729 639ZM1737.6 660.6L1740.5 668.5L1749 668.9L1742.4 674.1L1744.6 682.3L1737.6 677.6L1730.5 682.3L1732.8 674.1L1726.1 668.9L1734.6 668.5ZM1741.9 682.3L1744.9 690.2L1753.3 690.6L1746.7 695.9L1749 704L1741.9 699.4L1734.8 704L1737.1 695.9L1730.5 690.6L1738.9 690.2ZM1745.7 702.3L1748.7 710.2L1757.1 710.6L1750.5 715.9L1752.8 724L1745.7 719.4L1738.6 724L1740.9 715.9L1734.3 710.6L1742.7 710.2ZM1749.5 732.6L1752.5 740.5L1760.9 740.8L1754.3 746.1L1756.6 754.3L1749.5 749.6L1742.4 754.3L1744.7 746.1L1738.1 740.8L1746.5 740.5ZM1753.3 747.4L1756.3 755.3L1764.7 755.7L1758.1 761L1760.4 769.1L1753.3 764.4L1746.2 769.1L1748.5 761L1741.9 755.7L1750.3 755.3ZM1757.1 759.4L1760.1 767.3L1768.5 767.6L1761.9 772.9L1764.2 781.1L1757.1 776.4L1750 781.1L1752.3 772.9L1745.7 767.6L1754.1 767.3ZM1760.9 766.1L1763.9 774L1772.3 774.4L1765.7 779.6L1768 787.8L1760.9 783.1L1753.8 787.8L1756.1 779.6L1749.5 774.4L1757.9 774ZM1764.7 771.1L1767.7 779.1L1776.1 779.4L1769.5 784.7L1771.8 792.8L1764.7 788.2L1757.6 792.8L1759.9 784.7L1753.3 779.4L1761.7 779.1ZM1768.5 775.2L1771.5 783.1L1779.9 783.5L1773.3 788.8L1775.6 796.9L1768.5 792.2L1761.4 796.9L1763.7 788.8L1757.1 783.5L1765.5 783.1ZM1772.3 777.7L1775.3 785.7L1783.7 786L1777.1 791.3L1779.4 799.4L1772.3 794.8L1765.2 799.4L1767.5 791.3L1760.9 786L1769.3 785.7ZM1776.1 780.3L1779.1 788.2L1787.5 788.6L1780.9 793.9L1783.2 802L1776.1 797.3L1769 802L1771.3 793.9L1764.7 788.6L1773.1 788.2ZM1779.9 784.1L1782.9 792L1791.3 792.4L1784.7 797.7L1787 805.8L1779.9 801.1L1772.8 805.8L1775.1 797.7L1768.5 792.4L1776.9 792ZM1783.7 787.9L1786.7 795.8L1795.1 796.2L1788.5 801.5L1790.8 809.6L1783.7 804.9L1776.6 809.6L1778.9 801.5L1772.3 796.2L1780.7 795.8ZM1787.5 796.7L1790.5 804.6L1798.9 805L1792.3 810.2L1794.6 818.4L1787.5 813.7L1780.4 818.4L1782.7 810.2L1776.1 805L1784.5 804.6ZM1791.3 808.1L1794.3 816.1L1802.7 816.4L1796.1 821.7L1798.4 829.9L1791.3 825.2L1784.2 829.9L1786.5 821.7L1779.9 816.4L1788.3 816.1ZM1795.1 820.3L1798.1 828.2L1806.5 828.6L1799.9 833.9L1802.2 842L1795.1 837.3L1788 842L1790.3 833.9L1783.7 828.6L1792.1 828.2ZM1798.9 835.5L1801.9 843.4L1810.3 843.8L1803.7 849.1L1806 857.2L1798.9 852.6L1791.8 857.2L1794.1 849.1L1787.5 843.8L1795.9 843.4ZM1802.7 854.1L1805.7 862L1814.1 862.4L1807.5 867.6L1809.8 875.8L1802.7 871.1L1795.6 875.8L1797.9 867.6L1791.3 862.4L1799.7 862ZM1806.5 877L1809.5 885L1817.9 885.3L1811.3 890.6L1813.6 898.7L1806.5 894.1L1799.4 898.7L1801.7 890.6L1795.1 885.3L1803.5 885ZM1810.3 893.4L1813.3 901.3L1821.7 901.7L1815.1 906.9L1817.4 915.1L1810.3 910.4L1803.2 915.1L1805.5 906.9L1798.9 901.7L1807.3 901.3ZM1814.1 916.3L1817.1 924.3L1825.5 924.6L1818.9 929.9L1821.2 938L1814.1 933.4L1807 938L1809.3 929.9L1802.7 924.6L1811.1 924.3ZM1817.9 930.5L1820.9 938.4L1829.3 938.8L1822.7 944L1825 952.2L1817.9 947.5L1810.8 952.2L1813.1 944L1806.5 938.8L1814.9 938.4ZM1821.7 941.3L1824.7 949.3L1833.1 949.6L1826.5 954.9L1828.8 963L1821.7 958.4L1814.6 963L1816.9 954.9L1810.3 949.6L1818.7 949.3ZM1825.5 956.2L1828.5 964.1L1836.9 964.5L1830.3 969.7L1832.6 977.9L1825.5 973.2L1818.4 977.9L1820.7 969.7L1814.1 964.5L1822.5 964.1ZM1829.3 971.4L1832.3 979.3L1840.7 979.7L1834.1 984.9L1836.4 993.1L1829.3 988.4L1822.2 993.1L1824.5 984.9L1817.9 979.7L1826.3 979.3ZM1831 978.2L1834 986.1L1842.4 986.5L1835.8 991.8L1838.1 999.9L1831 995.2L1823.9 999.9L1826.2 991.8L1819.6 986.5L1828 986.1ZM1856 1135.2L1859 1143.1L1867.4 1143.5L1860.8 1148.8L1863.1 1156.9L1856 1152.2L1848.9 1156.9L1851.2 1148.8L1844.6 1143.5L1853 1143.1ZM1860.5 1145.8L1863.5 1153.7L1872 1154.1L1865.3 1159.4L1867.6 1167.5L1860.5 1162.8L1853.5 1167.5L1855.8 1159.4L1849.1 1154.1L1857.6 1153.7ZM1865.4 1150.7L1868.4 1158.6L1876.8 1158.9L1870.2 1164.2L1872.5 1172.4L1865.4 1167.7L1858.3 1172.4L1860.6 1164.2L1854 1158.9L1862.4 1158.6ZM1870.6 1152.6L1873.5 1160.6L1882 1160.9L1875.4 1166.2L1877.6 1174.3L1870.6 1169.7L1863.5 1174.3L1865.8 1166.2L1859.2 1160.9L1867.6 1160.6ZM1876.1 1154.1L1879.1 1162.1L1887.5 1162.4L1880.9 1167.7L1883.2 1175.8L1876.1 1171.2L1869.1 1175.8L1871.3 1167.7L1864.7 1162.4L1873.2 1162.1ZM1882 1157L1885 1164.9L1893.4 1165.3L1886.8 1170.6L1889.1 1178.7L1882 1174L1875 1178.7L1877.2 1170.6L1870.6 1165.3L1879.1 1164.9ZM1888.3 1162.6L1891.3 1170.5L1899.8 1170.9L1893.1 1176.2L1895.4 1184.3L1888.3 1179.7L1881.3 1184.3L1883.5 1176.2L1876.9 1170.9L1885.4 1170.5ZM1895.1 1166.5L1898 1174.4L1906.5 1174.8L1899.9 1180L1902.1 1188.2L1895.1 1183.5L1888 1188.2L1890.3 1180L1883.7 1174.8L1892.1 1174.4ZM1902.3 1171.2L1905.2 1179.1L1913.7 1179.5L1907.1 1184.8L1909.3 1192.9L1902.3 1188.3L1895.2 1192.9L1897.5 1184.8L1890.9 1179.5L1899.3 1179.1ZM1910 1194.3L1912.9 1202.2L1921.4 1202.6L1914.8 1207.8L1917 1216L1910 1211.3L1902.9 1216L1905.2 1207.8L1898.6 1202.6L1907 1202.2ZM1918.2 1216.5L1921.1 1224.4L1929.6 1224.8L1923 1230L1925.2 1238.2L1918.2 1233.5L1911.1 1238.2L1913.4 1230L1906.8 1224.8L1915.2 1224.4ZM1926.9 1241L1929.9 1248.9L1938.3 1249.3L1931.7 1254.6L1934 1262.7L1926.9 1258.1L1919.9 1262.7L1922.1 1254.6L1915.5 1249.3L1924 1248.9ZM1936.3 1275.9L1939.3 1283.9L1947.7 1284.2L1941.1 1289.5L1943.3 1297.6L1936.3 1293L1929.2 1297.6L1931.5 1289.5L1924.9 1284.2L1933.3 1283.9ZM1946.3 1301.5L1949.2 1309.4L1957.7 1309.8L1951.1 1315.1L1953.3 1323.2L1946.3 1318.6L1939.2 1323.2L1941.5 1315.1L1934.9 1309.8L1943.3 1309.4ZM1957 1320.9L1959.9 1328.8L1968.4 1329.2L1961.7 1334.4L1964 1342.6L1957 1337.9L1949.9 1342.6L1952.2 1334.4L1945.5 1329.2L1954 1328.8ZM1968.3 1332.8L1971.3 1340.7L1979.8 1341.1L1973.1 1346.4L1975.4 1354.5L1968.3 1349.9L1961.3 1354.5L1963.6 1346.4L1956.9 1341.1L1965.4 1340.7ZM1979.9 1346.5L1982.9 1354.4L1991.4 1354.8L1984.7 1360.1L1987 1368.2L1979.9 1363.6L1972.9 1368.2L1975.2 1360.1L1968.5 1354.8L1977 1354.4ZM1991.5 1357.3L1994.5 1365.2L2003 1365.6L1996.3 1370.8L1998.6 1379L1991.5 1374.3L1984.5 1379L1986.8 1370.8L1980.1 1365.6L1988.6 1365.2ZM2003.1 1364L2006.1 1371.9L2014.6 1372.3L2007.9 1377.5L2010.2 1385.7L2003.1 1381L1996.1 1385.7L1998.4 1377.5L1991.7 1372.3L2000.2 1371.9ZM2014.7 1372.4L2017.7 1380.3L2026.2 1380.7L2019.5 1385.9L2021.8 1394.1L2014.7 1389.4L2007.7 1394.1L2010 1385.9L2003.3 1380.7L2011.8 1380.3ZM2026.3 1380.6L2029.3 1388.5L2037.8 1388.9L2031.1 1394.1L2033.4 1402.3L2026.3 1397.6L2019.3 1402.3L2021.6 1394.1L2014.9 1388.9L2023.4 1388.5ZM2037.9 1386.4L2040.9 1394.3L2049.4 1394.7L2042.7 1399.9L2045 1408.1L2037.9 1403.4L2030.9 1408.1L2033.2 1399.9L2026.5 1394.7L2035 1394.3ZM2049.5 1391L2052.5 1398.9L2061 1399.3L2054.3 1404.6L2056.6 1412.7L2049.5 1408.1L2042.5 1412.7L2044.8 1404.6L2038.1 1399.3L2046.6 1398.9ZM2061.1 1397.9L2064.1 1405.8L2072.6 1406.2L2065.9 1411.4L2068.2 1419.6L2061.1 1414.9L2054.1 1419.6L2056.4 1411.4L2049.7 1406.2L2058.2 1405.8ZM2072.7 1403.8L2075.7 1411.7L2084.2 1412.1L2077.5 1417.3L2079.8 1425.5L2072.7 1420.8L2065.7 1425.5L2068 1417.3L2061.3 1412.1L2069.8 1411.7ZM2084.3 1407.5L2087.3 1415.4L2095.8 1415.8L2089.1 1421L2091.4 1429.2L2084.3 1424.5L2077.3 1429.2L2079.6 1421L2072.9 1415.8L2081.4 1415.4ZM2095.9 1412.8L2098.9 1420.8L2107.4 1421.1L2100.7 1426.4L2103 1434.5L2095.9 1429.9L2088.9 1434.5L2091.2 1426.4L2084.5 1421.1L2093 1420.8ZM2107.5 1418.7L2110.5 1426.6L2119 1427L2112.3 1432.3L2114.6 1440.4L2107.5 1435.8L2100.5 1440.4L2102.8 1432.3L2096.1 1427L2104.6 1426.6ZM2119.1 1423.6L2122.1 1431.5L2130.6 1431.9L2123.9 1437.1L2126.2 1445.3L2119.1 1440.6L2112.1 1445.3L2114.4 1437.1L2107.7 1431.9L2116.2 1431.5ZM2130.7 1427.3L2133.7 1435.2L2142.2 1435.6L2135.5 1440.9L2137.8 1449L2130.7 1444.3L2123.7 1449L2126 1440.9L2119.3 1435.6L2127.8 1435.2ZM2142.3 1428.8L2145.3 1436.8L2153.8 1437.1L2147.1 1442.4L2149.4 1450.6L2142.3 1445.9L2135.3 1450.6L2137.6 1442.4L2130.9 1437.1L2139.4 1436.8ZM2153.9 1430.4L2156.9 1438.3L2165.4 1438.7L2158.7 1443.9L2161 1452.1L2153.9 1447.4L2146.9 1452.1L2149.2 1443.9L2142.5 1438.7L2151 1438.3ZM2165.5 1431.3L2168.5 1439.2L2177 1439.6L2170.3 1444.8L2172.6 1453L2165.5 1448.3L2158.5 1453L2160.8 1444.8L2154.1 1439.6L2162.6 1439.2ZM2177.1 1431.4L2180.1 1439.4L2188.6 1439.7L2181.9 1445L2184.2 1453.2L2177.1 1448.5L2170.1 1453.2L2172.4 1445L2165.7 1439.7L2174.2 1439.4ZM2188.7 1431.6L2191.7 1439.5L2200.2 1439.9L2193.5 1445.2L2195.8 1453.3L2188.7 1448.7L2181.7 1453.3L2184 1445.2L2177.3 1439.9L2185.8 1439.5ZM2200.3 1431.8L2203.3 1439.7L2211.8 1440.1L2205.1 1445.3L2207.4 1453.5L2200.3 1448.8L2193.3 1453.5L2195.6 1445.3L2188.9 1440.1L2197.4 1439.7ZM2211.9 1431.9L2214.9 1439.9L2223.4 1440.2L2216.7 1445.5L2219 1453.7L2211.9 1449L2204.9 1453.7L2207.2 1445.5L2200.5 1440.2L2209 1439.9ZM2223.5 1432.1L2226.5 1440L2235 1440.4L2228.3 1445.7L2230.6 1453.8L2223.5 1449.1L2216.5 1453.8L2218.8 1445.7L2212.1 1440.4L2220.6 1440ZM2235.1 1432.3L2238.1 1440.2L2246.6 1440.6L2239.9 1445.8L2242.2 1454L2235.1 1449.3L2228.1 1454L2230.4 1445.8L2223.7 1440.6L2232.2 1440.2ZM2246.7 1432.4L2249.7 1440.4L2258.2 1440.7L2251.5 1446L2253.8 1454.1L2246.7 1449.5L2239.7 1454.1L2242 1446L2235.3 1440.7L2243.8 1440.4ZM2258.3 1432.6L2261.3 1440.5L2269.8 1440.9L2263.1 1446.2L2265.4 1454.3L2258.3 1449.6L2251.3 1454.3L2253.6 1446.2L2246.9 1440.9L2255.4 1440.5ZM2269.9 1432.8L2272.9 1440.7L2281.4 1441.1L2274.7 1446.3L2277 1454.5L2269.9 1449.8L2262.9 1454.5L2265.2 1446.3L2258.5 1441.1L2267 1440.7ZM2281.5 1432.9L2284.5 1440.9L2293 1441.2L2286.3 1446.5L2288.6 1454.6L2281.5 1450L2274.5 1454.6L2276.8 1446.5L2270.1 1441.2L2278.6 1440.9ZM2293.1 1433.1L2296.1 1441L2304.6 1441.4L2297.9 1446.7L2300.2 1454.8L2293.1 1450.1L2286.1 1454.8L2288.4 1446.7L2281.7 1441.4L2290.2 1441ZM2300 1433.2L2303 1441.1L2311.4 1441.5L2304.8 1446.8L2307.1 1454.9L2300 1450.2L2292.9 1454.9L2295.2 1446.8L2288.6 1441.5L2297 1441.1Z" fill="#00ff00"/>
<path d="M1505 1449L1628 1449L1633 1417L1637.6 1368L1641.8 1300L1645 1230L1648 1160L1650.9 1080L1652.7 932L1660 890L1670.9 845L1677 756L1682.7 688L1689 638L1695 614L1701.7 602L1708 615L1718 663L1727.2 705L1734.4 749L1740 791L1743.5 828L1749 861L1754.4 893L1758 905L1767 922L1781.7 933L1796.2 940L1803.5 956L1809 974.5L1816.2 994.5L1820.7 1011L1825.3 1034L1830.7 1058L1834.4 1082L1839 1103L1849 1250L1862 1250L1880 1266L1900 1288L1920 1306L1932.7 1333.5L1945 1380L1958 1420L1970 1447L2300 1449L2304 1425" fill="none" stroke="#0000ff" stroke-width="3" stroke-linejoin="round"/>
<path d="M1505 1462.3L1493.5 1442.3L1516.5 1442.3ZM1511 1462.3L1499.5 1442.3L1522.5 1442.3ZM1517 1462.3L1505.5 1442.3L1528.5 1442.3ZM1523 1462.3L1511.5 1442.3L1534.5 1442.3ZM1529 1462.3L1517.5 1442.3L1540.5 1442.3ZM1535 1462.3L1523.5 1442.3L1546.5 1442.3ZM1541 1462.3L1529.5 1442.3L1552.5 1442.3ZM1547 1462.3L1535.5 1442.3L1558.5 1442.3ZM1553 1462.3L1541.5 1442.3L1564.5 1442.3ZM1559 1462.3L1547.5 1442.3L1570.5 1442.3ZM1565 1462.3L1553.5 1442.3L1576.5 1442.3ZM1571 1462.3L1559.5 1442.3L1582.5 1442.3ZM1577 1462.3L1565.5 1442.3L1588.5 1442.3ZM1583 1462.3L1571.5 1442.3L1594.5 1442.3ZM1589 1462.3L1577.5 1442.3L1600.5 1442.3ZM1595 1462.3L1583.5 1442.3L1606.5 1442.3ZM1601 1462.3L1589.5 1442.3L1612.5 1442.3ZM1607 1462.3L1595.5 1442.3L1618.5 1442.3ZM1613 1462.3L1601.5 1442.3L1624.5 1442.3ZM1619 1462.3L1607.5 1442.3L1630.5 1442.3ZM1625 1462.3L1613.5 1442.3L1636.5 1442.3ZM1631 1443.1L1619.5 1423.1L1642.5 1423.1ZM1637 1387.7L1625.5 1367.7L1648.5 1367.7ZM1643 1287.1L1631.5 1267.1L1654.5 1267.1ZM1649 1145.7L1637.5 1125.7L1660.5 1125.7ZM1655 932.1L1643.5 912.1L1666.5 912.1ZM1661 899.2L1649.5 879.2L1672.5 879.2ZM1667 874.4L1655.5 854.4L1678.5 854.4ZM1673 827.7L1661.5 807.7L1684.5 807.7ZM1679 745.5L1667.5 725.5L1690.5 725.5ZM1685 683.1L1673.5 663.1L1696.5 663.1ZM1691 643.3L1679.5 623.3L1702.5 623.3ZM1697 623.8L1685.5 603.8L1708.5 603.8ZM1703 618L1691.5 598L1714.5 598ZM1709 633.1L1697.5 613.1L1720.5 613.1ZM1715 661.9L1703.5 641.9L1726.5 641.9ZM1721 690L1709.5 670L1732.5 670ZM1727 717.4L1715.5 697.4L1738.5 697.4ZM1733 753.8L1721.5 733.8L1744.5 733.8ZM1738.3 791.9L1726.8 771.9L1749.8 771.9ZM1742.5 830.8L1731 810.8L1754 810.8ZM1746.3 858.2L1734.8 838.2L1757.8 838.2ZM1750.1 880.9L1738.6 860.9L1761.6 860.9ZM1753.9 903.4L1742.4 883.4L1765.4 883.4ZM1757.7 917.4L1746.2 897.4L1769.2 897.4ZM1761.5 925L1750 905L1773 905ZM1765.3 932.1L1753.8 912.1L1776.8 912.1ZM1769.1 936.9L1757.6 916.9L1780.6 916.9ZM1772.9 939.8L1761.4 919.8L1784.4 919.8ZM1776.7 942.6L1765.2 922.6L1788.2 922.6ZM1780.5 945.4L1769 925.4L1792 925.4ZM1784.3 947.6L1772.8 927.6L1795.8 927.6ZM1788.1 949.4L1776.6 929.4L1799.6 929.4ZM1791.9 951.3L1780.4 931.3L1803.4 931.3ZM1795.7 953.1L1784.2 933.1L1807.2 933.1ZM1799.5 960.6L1788 940.6L1811 940.6ZM1803.3 968.9L1791.8 948.9L1814.8 948.9ZM1807.1 981.5L1795.6 961.5L1818.6 961.5ZM1810.9 993.1L1799.4 973.1L1822.4 973.1ZM1814.7 1003.7L1803.2 983.7L1826.2 983.7ZM1818.5 1016.3L1807 996.3L1830 996.3ZM1822.3 1032.4L1810.8 1012.4L1833.8 1012.4ZM1826.1 1050.9L1814.6 1030.9L1837.6 1030.9ZM1829.9 1067.8L1818.4 1047.8L1841.4 1047.8ZM1833.7 1090.8L1822.2 1070.8L1845.2 1070.8ZM1837.5 1109.5L1826 1089.5L1849 1089.5ZM1849 1263.3L1837.5 1243.3L1860.5 1243.3ZM1853.1 1263.3L1841.6 1243.3L1864.6 1243.3ZM1857.4 1263.3L1845.9 1243.3L1868.9 1243.3ZM1862.1 1263.4L1850.6 1243.4L1873.6 1243.4ZM1867 1267.8L1855.5 1247.8L1878.5 1247.8ZM1872.3 1272.5L1860.8 1252.5L1883.8 1252.5ZM1878 1277.5L1866.5 1257.5L1889.5 1257.5ZM1884 1283.7L1872.5 1263.7L1895.5 1263.7ZM1890.4 1290.8L1878.9 1270.8L1901.9 1270.8ZM1897.3 1298.4L1885.8 1278.4L1908.8 1278.4ZM1904.7 1305.5L1893.2 1285.5L1916.2 1285.5ZM1912.5 1312.6L1901 1292.6L1924 1292.6ZM1920.9 1321.3L1909.4 1301.3L1932.4 1301.3ZM1929.9 1340.7L1918.4 1320.7L1941.4 1320.7ZM1939.4 1372.2L1927.9 1352.2L1950.9 1352.2ZM1949.6 1407.5L1938.1 1387.5L1961.1 1387.5ZM1960.5 1439L1949 1419L1972 1419ZM1972.1 1460.3L1960.6 1440.3L1983.6 1440.3ZM1983.7 1460.4L1972.2 1440.4L1995.2 1440.4ZM1995.3 1460.5L1983.8 1440.5L2006.8 1440.5ZM2006.9 1460.6L1995.4 1440.6L2018.4 1440.6ZM2018.5 1460.6L2007 1440.6L2030 1440.6ZM2030.1 1460.7L2018.6 1440.7L2041.6 1440.7ZM2041.7 1460.8L2030.2 1440.8L2053.2 1440.8ZM2053.3 1460.8L2041.8 1440.8L2064.8 1440.8ZM2064.9 1460.9L2053.4 1440.9L2076.4 1440.9ZM2076.5 1461L2065 1441L2088 1441ZM2088.1 1461L2076.6 1441L2099.6 1441ZM2099.7 1461.1L2088.2 1441.1L2111.2 1441.1ZM2111.3 1461.2L2099.8 1441.2L2122.8 1441.2ZM2122.9 1461.3L2111.4 1441.3L2134.4 1441.3ZM2134.5 1461.3L2123 1441.3L2146 1441.3ZM2146.1 1461.4L2134.6 1441.4L2157.6 1441.4ZM2157.7 1461.5L2146.2 1441.5L2169.2 1441.5ZM2169.3 1461.5L2157.8 1441.5L2180.8 1441.5ZM2180.9 1461.6L2169.4 1441.6L2192.4 1441.6ZM2192.5 1461.7L2181 1441.7L2204 1441.7ZM2204.1 1461.8L2192.6 1441.8L2215.6 1441.8ZM2215.7 1461.8L2204.2 1441.8L2227.2 1441.8ZM2227.3 1461.9L2215.8 1441.9L2238.8 1441.9ZM2238.9 1462L2227.4 1442L2250.4 1442ZM2250.5 1462L2239 1442L2262 1442ZM2262.1 1462.1L2250.6 1442.1L2273.6 1442.1ZM2273.7 1462.2L2262.2 1442.2L2285.2 1442.2ZM2285.3 1462.2L2273.8 1442.2L2296.8 1442.2ZM2296.9 1462.3L2285.4 1442.3L2308.4 1442.3ZM2300 1462.3L2288.5 1442.3L2311.5 1442.3ZM2304 1438.3L2292.5 1418.3L2315.5 1418.3Z" fill="#0000ff"/>
<path d="M1510 1445L1628 1445L1632 1400L1636 1320L1640 1169L1642.5 1110L1645.4 1069L1646 1000L1647 953L1658 880L1670 821L1678 767L1685.4 727L1692 712L1698 702L1705 720L1712 752L1720.8 787L1727.2 816L1731.7 848L1736.3 875L1741.7 900L1746 925L1750.8 940L1763.5 967L1776.2 989L1787.1 1007L1796.2 1031L1805.3 1054L1812.6 1080L1819.8 1103.5L1826 1120L1832 1130L1836 1140L1856.3 1268L1871 1286L1892.7 1299L1900 1308L1915 1322L1929 1341L1940 1370L1950 1400L1962 1430L1975 1445L2300 1446L2303 1408" fill="none" stroke="#00ffff" stroke-width="3" stroke-linejoin="round"/>
<path d="M1500.5 1435.5h19v19h-19ZM1506.5 1435.5h19v19h-19ZM1512.5 1435.5h19v19h-19ZM1518.5 1435.5h19v19h-19ZM1524.5 1435.5h19v19h-19ZM1530.5 1435.5h19v19h-19ZM1536.5 1435.5h19v19h-19ZM1542.5 1435.5h19v19h-19ZM1548.5 1435.5h19v19h-19ZM1554.5 1435.5h19v19h-19ZM1560.5 1435.5h19v19h-19ZM1566.5 1435.5h19v19h-19ZM1572.5 1435.5h19v19h-19ZM1578.5 1435.5h19v19h-19ZM1584.5 1435.5h19v19h-19ZM1590.5 1435.5h19v19h-19ZM1596.5 1435.5h19v19h-19ZM1602.5 1435.5h19v19h-19ZM1608.5 1435.5h19v19h-19ZM1614.5 1435.5h19v19h-19ZM1620.5 1413h19v19h-19ZM1626.5 1310.5h19v19h-19ZM1632.5 1112.3h19v19h-19ZM1638.5 936.9h19v19h-19ZM1644.5 897h19v19h-19ZM1650.5 860.7h19v19h-19ZM1656.5 831.2h19v19h-19ZM1662.5 798h19v19h-19ZM1668.5 757.5h19v19h-19ZM1674.5 725.1h19v19h-19ZM1680.5 707h19v19h-19ZM1686.5 695.8h19v19h-19ZM1692.5 702.8h19v19h-19ZM1698.5 724.2h19v19h-19ZM1704.5 750.5h19v19h-19ZM1710.5 774.3h19v19h-19ZM1716.5 801.1h19v19h-19ZM1722.5 840.3h19v19h-19ZM1728.1 871.3h19v19h-19ZM1732.4 891.6h19v19h-19ZM1736.2 913.7h19v19h-19ZM1740 926.4h19v19h-19ZM1743.8 935.8h19v19h-19ZM1747.6 943.9h19v19h-19ZM1751.4 952h19v19h-19ZM1755.2 959.6h19v19h-19ZM1759 966.2h19v19h-19ZM1762.8 972.7h19v19h-19ZM1766.6 979.3h19v19h-19ZM1770.4 985.6h19v19h-19ZM1774.2 991.9h19v19h-19ZM1778 998.5h19v19h-19ZM1781.8 1008.6h19v19h-19ZM1785.6 1018.6h19v19h-19ZM1789.4 1028.3h19v19h-19ZM1793.2 1037.9h19v19h-19ZM1797 1048.8h19v19h-19ZM1800.8 1062.3h19v19h-19ZM1804.6 1075.4h19v19h-19ZM1808.4 1087.8h19v19h-19ZM1812.2 1099h19v19h-19ZM1816 1109.2h19v19h-19ZM1819.8 1116h19v19h-19ZM1823.6 1123.2h19v19h-19ZM1826.5 1130.5h19v19h-19ZM1846.8 1258.5h19v19h-19ZM1851.4 1264.1h19v19h-19ZM1856.2 1270.1h19v19h-19ZM1861.4 1276.4h19v19h-19ZM1867 1279.8h19v19h-19ZM1872.9 1283.4h19v19h-19ZM1879.3 1287.2h19v19h-19ZM1886.1 1293h19v19h-19ZM1893.3 1301.1h19v19h-19ZM1901 1308.3h19v19h-19ZM1909.2 1317.6h19v19h-19ZM1918 1329.5h19v19h-19ZM1927.4 1352.5h19v19h-19ZM1937.5 1381.5h19v19h-19ZM1948.2 1409.8h19v19h-19ZM1959.6 1428.7h19v19h-19ZM1971.2 1435.5h19v19h-19ZM1982.8 1435.6h19v19h-19ZM1994.4 1435.6h19v19h-19ZM2006 1435.6h19v19h-19ZM2017.6 1435.7h19v19h-19ZM2029.2 1435.7h19v19h-19ZM2040.8 1435.7h19v19h-19ZM2052.4 1435.8h19v19h-19ZM2064 1435.8h19v19h-19ZM2075.6 1435.8h19v19h-19ZM2087.2 1435.9h19v19h-19ZM2098.8 1435.9h19v19h-19ZM2110.4 1435.9h19v19h-19ZM2122 1436h19v19h-19ZM2133.6 1436h19v19h-19ZM2145.2 1436.1h19v19h-19ZM2156.8 1436.1h19v19h-19ZM2168.4 1436.1h19v19h-19ZM2180 1436.2h19v19h-19ZM2191.6 1436.2h19v19h-19ZM2203.2 1436.2h19v19h-19ZM2214.8 1436.3h19v19h-19ZM2226.4 1436.3h19v19h-19ZM2238 1436.3h19v19h-19ZM2249.6 1436.4h19v19h-19ZM2261.2 1436.4h19v19h-19ZM2272.8 1436.4h19v19h-19ZM2284.4 1436.5h19v19h-19ZM2290.5 1436.5h19v19h-19ZM2293.5 1398.5h19v19h-19Z" fill="#00ffff"/>
<path d="M1480.5 1371.5L1491 1353L1497.5 1335L1504 1327L1510 1318L1519 1300L1529 1318L1539 1340L1544 1363L1550.5 1393L1553 1420L1557 1443L1563 1447L1569 1447L1575 1447L1581 1447L1587 1447L1593 1447L1599 1447L1605 1447L1611 1447L1616 1422L1618 1378L1623 1318L1627 1252L1631 1178L1635 1106L1640 1023L1673 994L1678 958L1684.5 923L1691 890L1697 852L1703 817L1708 776L1714.5 734L1721 688L1727 636L1732.6 582L1737 530L1742.6 479L1747 436L1751 405L1757 380L1763 370L1770 380L1777 407L1780 436L1784 474L1789 515L1793 557L1796 601L1801 640L1804 674.5L1808 707L1812 734L1815 765L1819 794L1823 827L1826 859L1830 892L1834 907L1858 1179L1869 1212L1880 1221L1893 1248L1904 1278L1914.5 1329L1925 1380L1936 1419L1946 1443L1957 1447L1968.6 1447.2L1980.2 1447.4L1991.8 1447.6L2003.4 1447.8L2015 1448L2026.6 1448.1L2038.2 1448.3L2049.8 1448.5L2061.4 1448.7L2073 1448.9L2084.6 1449.1L2096.2 1449.3L2107.8 1449.5L2119.4 1449.7L2131 1449.9L2303 1450" fill="none" stroke="#ff0000" stroke-width="3" stroke-linejoin="round"/>
<path d="M1480.5 1358.2L1492 1378.2L1469 1378.2ZM1491 1339.7L1502.5 1359.7L1479.5 1359.7ZM1497.5 1321.7L1509 1341.7L1486 1341.7ZM1504 1313.7L1515.5 1333.7L1492.5 1333.7ZM1510 1304.7L1521.5 1324.7L1498.5 1324.7ZM1519 1286.7L1530.5 1306.7L1507.5 1306.7ZM1529 1304.7L1540.5 1324.7L1517.5 1324.7ZM1539 1326.7L1550.5 1346.7L1527.5 1346.7ZM1544 1349.7L1555.5 1369.7L1532.5 1369.7ZM1550.5 1379.7L1562 1399.7L1539 1399.7ZM1553 1406.7L1564.5 1426.7L1541.5 1426.7ZM1557 1429.7L1568.5 1449.7L1545.5 1449.7ZM1563 1433.7L1574.5 1453.7L1551.5 1453.7ZM1569 1433.7L1580.5 1453.7L1557.5 1453.7ZM1575 1433.7L1586.5 1453.7L1563.5 1453.7ZM1581 1433.7L1592.5 1453.7L1569.5 1453.7ZM1587 1433.7L1598.5 1453.7L1575.5 1453.7ZM1593 1433.7L1604.5 1453.7L1581.5 1453.7ZM1599 1433.7L1610.5 1453.7L1587.5 1453.7ZM1605 1433.7L1616.5 1453.7L1593.5 1453.7ZM1611 1433.7L1622.5 1453.7L1599.5 1453.7ZM1616 1408.7L1627.5 1428.7L1604.5 1428.7ZM1618 1364.7L1629.5 1384.7L1606.5 1384.7ZM1623 1304.7L1634.5 1324.7L1611.5 1324.7ZM1627 1238.7L1638.5 1258.7L1615.5 1258.7ZM1631 1164.7L1642.5 1184.7L1619.5 1184.7ZM1635 1092.7L1646.5 1112.7L1623.5 1112.7ZM1640 1009.7L1651.5 1029.7L1628.5 1029.7ZM1673 980.7L1684.5 1000.7L1661.5 1000.7ZM1678 944.7L1689.5 964.7L1666.5 964.7ZM1684.5 909.7L1696 929.7L1673 929.7ZM1691 876.7L1702.5 896.7L1679.5 896.7ZM1697 838.7L1708.5 858.7L1685.5 858.7ZM1703 803.7L1714.5 823.7L1691.5 823.7ZM1708 762.7L1719.5 782.7L1696.5 782.7ZM1714.5 720.7L1726 740.7L1703 740.7ZM1721 674.7L1732.5 694.7L1709.5 694.7ZM1727 622.7L1738.5 642.7L1715.5 642.7ZM1732.6 568.7L1744.1 588.7L1721.1 588.7ZM1737 516.7L1748.5 536.7L1725.5 536.7ZM1742.6 465.7L1754.1 485.7L1731.1 485.7ZM1747 422.7L1758.5 442.7L1735.5 442.7ZM1751 391.7L1762.5 411.7L1739.5 411.7ZM1757 366.7L1768.5 386.7L1745.5 386.7ZM1763 356.7L1774.5 376.7L1751.5 376.7ZM1770 366.7L1781.5 386.7L1758.5 386.7ZM1777 393.7L1788.5 413.7L1765.5 413.7ZM1780 422.7L1791.5 442.7L1768.5 442.7ZM1784 460.7L1795.5 480.7L1772.5 480.7ZM1789 501.7L1800.5 521.7L1777.5 521.7ZM1793 543.7L1804.5 563.7L1781.5 563.7ZM1796 587.7L1807.5 607.7L1784.5 607.7ZM1801 626.7L1812.5 646.7L1789.5 646.7ZM1804 661.2L1815.5 681.2L1792.5 681.2ZM1808 693.7L1819.5 713.7L1796.5 713.7ZM1812 720.7L1823.5 740.7L1800.5 740.7ZM1815 751.7L1826.5 771.7L1803.5 771.7ZM1819 780.7L1830.5 800.7L1807.5 800.7ZM1823 813.7L1834.5 833.7L1811.5 833.7ZM1826 845.7L1837.5 865.7L1814.5 865.7ZM1830 878.7L1841.5 898.7L1818.5 898.7ZM1834 893.7L1845.5 913.7L1822.5 913.7ZM1858 1165.7L1869.5 1185.7L1846.5 1185.7ZM1869 1198.7L1880.5 1218.7L1857.5 1218.7ZM1880 1207.7L1891.5 1227.7L1868.5 1227.7ZM1893 1234.7L1904.5 1254.7L1881.5 1254.7ZM1904 1264.7L1915.5 1284.7L1892.5 1284.7ZM1914.5 1315.7L1926 1335.7L1903 1335.7ZM1925 1366.7L1936.5 1386.7L1913.5 1386.7ZM1936 1405.7L1947.5 1425.7L1924.5 1425.7ZM1946 1429.7L1957.5 1449.7L1934.5 1449.7ZM1957 1433.7L1968.5 1453.7L1945.5 1453.7ZM1968.6 1433.9L1980.1 1453.9L1957.1 1453.9ZM1980.2 1434L1991.7 1454L1968.7 1454ZM1991.8 1434.2L2003.3 1454.2L1980.3 1454.2ZM2003.4 1434.4L2014.9 1454.4L1991.9 1454.4ZM2015 1434.6L2026.5 1454.6L2003.5 1454.6ZM2026.6 1434.8L2038.1 1454.8L2015.1 1454.8ZM2038.2 1435L2049.7 1455L2026.7 1455ZM2049.8 1435.2L2061.3 1455.2L2038.3 1455.2ZM2061.4 1435.4L2072.9 1455.4L2049.9 1455.4ZM2073 1435.6L2084.5 1455.6L2061.5 1455.6ZM2084.6 1435.8L2096.1 1455.8L2073.1 1455.8ZM2096.2 1435.9L2107.7 1455.9L2084.7 1455.9ZM2107.8 1436.1L2119.3 1456.1L2096.3 1456.1ZM2119.4 1436.3L2130.9 1456.3L2107.9 1456.3ZM2131 1436.5L2142.5 1456.5L2119.5 1456.5Z" fill="#ff0000"/>
<path d="M1693 1446L1750 1446L1758 1431L1764 1417L1770.5 1403L1775 1392L1780 1382L1786 1376L1791.4 1372.6L1798 1370L1805.4 1369.8L1811 1374L1816.5 1378L1821 1384L1826 1389L1832 1395L1838 1396L1845 1392L1855 1388L1865 1386L1875 1384L1885 1382L1895 1381L1905 1383L1915 1387L1925 1392L1940 1398L1960 1405L1980 1412L2000 1418L2020 1423L2040 1427L2060 1430L2088 1433L2120 1436L2150 1438L2291 1440L2303 1383" fill="none" stroke="#ff40ff" stroke-width="3" stroke-linejoin="round"/>
<path d="M1693 1433L1706.5 1446L1693 1459L1679.5 1446ZM1698.6 1433L1712.1 1446L1698.6 1459L1685.1 1446ZM1704.2 1433L1717.7 1446L1704.2 1459L1690.7 1446ZM1709.8 1433L1723.3 1446L1709.8 1459L1696.3 1446ZM1715.4 1433L1728.9 1446L1715.4 1459L1701.9 1446ZM1721 1433L1734.5 1446L1721 1459L1707.5 1446ZM1726.6 1433L1740.1 1446L1726.6 1459L1713.1 1446ZM1732.2 1433L1745.7 1446L1732.2 1459L1718.7 1446ZM1737.8 1433L1751.3 1446L1737.8 1459L1724.3 1446ZM1743.4 1433L1756.9 1446L1743.4 1459L1729.9 1446ZM1749 1433L1762.5 1446L1749 1459L1735.5 1446ZM1754.6 1424.4L1768.1 1437.4L1754.6 1450.4L1741.1 1437.4ZM1760.2 1412.9L1773.7 1425.9L1760.2 1438.9L1746.7 1425.9ZM1765.8 1400.1L1779.3 1413.1L1765.8 1426.1L1752.3 1413.1ZM1771.4 1387.8L1784.9 1400.8L1771.4 1413.8L1757.9 1400.8ZM1777 1375L1790.5 1388L1777 1401L1763.5 1388ZM1782.6 1366.4L1796.1 1379.4L1782.6 1392.4L1769.1 1379.4ZM1788.2 1361.6L1801.7 1374.6L1788.2 1387.6L1774.7 1374.6ZM1793.8 1358.7L1807.3 1371.7L1793.8 1384.7L1780.3 1371.7ZM1799.4 1357L1812.9 1370L1799.4 1383L1785.9 1370ZM1805 1356.8L1818.5 1369.8L1805 1382.8L1791.5 1369.8ZM1810.6 1360.7L1824.1 1373.7L1810.6 1386.7L1797.1 1373.7ZM1816.2 1364.8L1829.7 1377.8L1816.2 1390.8L1802.7 1377.8ZM1821.8 1371.8L1835.3 1384.8L1821.8 1397.8L1808.3 1384.8ZM1827.4 1377.4L1840.9 1390.4L1827.4 1403.4L1813.9 1390.4ZM1833 1382.2L1846.5 1395.2L1833 1408.2L1819.5 1395.2ZM1838.6 1382.7L1852.1 1395.7L1838.6 1408.7L1825.1 1395.7ZM1844.2 1379.5L1857.7 1392.5L1844.2 1405.5L1830.7 1392.5ZM1849.8 1377.1L1863.3 1390.1L1849.8 1403.1L1836.3 1390.1ZM1855.4 1374.9L1868.9 1387.9L1855.4 1400.9L1841.9 1387.9ZM1861.3 1373.7L1874.8 1386.7L1861.3 1399.7L1847.8 1386.7ZM1867.5 1372.5L1881 1385.5L1867.5 1398.5L1854 1385.5ZM1874.1 1371.2L1887.6 1384.2L1874.1 1397.2L1860.6 1384.2ZM1881 1369.8L1894.5 1382.8L1881 1395.8L1867.5 1382.8ZM1888.3 1368.7L1901.8 1381.7L1888.3 1394.7L1874.8 1381.7ZM1896 1368.2L1909.5 1381.2L1896 1394.2L1882.5 1381.2ZM1904.1 1369.8L1917.6 1382.8L1904.1 1395.8L1890.6 1382.8ZM1912.6 1373L1926.1 1386L1912.6 1399L1899.1 1386ZM1921.6 1377.3L1935.1 1390.3L1921.6 1403.3L1908.1 1390.3ZM1931.1 1381.5L1944.6 1394.5L1931.1 1407.5L1917.6 1394.5ZM1941.2 1385.4L1954.7 1398.4L1941.2 1411.4L1927.7 1398.4ZM1951.7 1389.1L1965.2 1402.1L1951.7 1415.1L1938.2 1402.1ZM1962.9 1393L1976.4 1406L1962.9 1419L1949.4 1406ZM1974.5 1397.1L1988 1410.1L1974.5 1423.1L1961 1410.1ZM1986.1 1400.8L1999.6 1413.8L1986.1 1426.8L1972.6 1413.8ZM1997.7 1404.3L2011.2 1417.3L1997.7 1430.3L1984.2 1417.3ZM2009.3 1407.3L2022.8 1420.3L2009.3 1433.3L1995.8 1420.3ZM2020.9 1410.2L2034.4 1423.2L2020.9 1436.2L2007.4 1423.2ZM2032.5 1412.5L2046 1425.5L2032.5 1438.5L2019 1425.5ZM2044.1 1414.6L2057.6 1427.6L2044.1 1440.6L2030.6 1427.6ZM2055.7 1416.4L2069.2 1429.4L2055.7 1442.4L2042.2 1429.4ZM2067.3 1417.8L2080.8 1430.8L2067.3 1443.8L2053.8 1430.8ZM2078.9 1419L2092.4 1432L2078.9 1445L2065.4 1432ZM2090.5 1420.2L2104 1433.2L2090.5 1446.2L2077 1433.2ZM2102.1 1421.3L2115.6 1434.3L2102.1 1447.3L2088.6 1434.3ZM2113.7 1422.4L2127.2 1435.4L2113.7 1448.4L2100.2 1435.4ZM2125.3 1423.4L2138.8 1436.4L2125.3 1449.4L2111.8 1436.4ZM2136.9 1424.1L2150.4 1437.1L2136.9 1450.1L2123.4 1437.1ZM2148.5 1424.9L2162 1437.9L2148.5 1450.9L2135 1437.9ZM2160.1 1425.1L2173.6 1438.1L2160.1 1451.1L2146.6 1438.1ZM2171.7 1425.3L2185.2 1438.3L2171.7 1451.3L2158.2 1438.3ZM2183.3 1425.5L2196.8 1438.5L2183.3 1451.5L2169.8 1438.5ZM2194.9 1425.6L2208.4 1438.6L2194.9 1451.6L2181.4 1438.6ZM2206.5 1425.8L2220 1438.8L2206.5 1451.8L2193 1438.8ZM2218.1 1426L2231.6 1439L2218.1 1452L2204.6 1439ZM2229.7 1426.1L2243.2 1439.1L2229.7 1452.1L2216.2 1439.1ZM2241.3 1426.3L2254.8 1439.3L2241.3 1452.3L2227.8 1439.3ZM2252.9 1426.5L2266.4 1439.5L2252.9 1452.5L2239.4 1439.5ZM2264.5 1426.6L2278 1439.6L2264.5 1452.6L2251 1439.6ZM2276.1 1426.8L2289.6 1439.8L2276.1 1452.8L2262.6 1439.8ZM2287.7 1427L2301.2 1440L2287.7 1453L2274.2 1440ZM2291 1427L2304.5 1440L2291 1453L2277.5 1440ZM2303 1370L2316.5 1383L2303 1396L2289.5 1383Z" fill="#ffffff" stroke="#ff40ff" stroke-width="1.4"/>
<path d="M1497 587L1504 440L1512 309L1519 234.5L1527 242L1533 338L1539 517L1545 754L1551 1016L1558 1257L1563 1426L1569 1442L1576 1430L1583 1421L1590 1419L1597 1430L1603 1444L1609 1446L1615.7 1446L1622.4 1446L1629.1 1446L1635.8 1446L1642.5 1446L1649.2 1446L1655.9 1446L1662.6 1446L1669.3 1446L1676 1446L1682.7 1446L1689.4 1446L1696.1 1446L1702.8 1446L1709.5 1446L1716.2 1446" fill="none" stroke="#000000" stroke-width="3" stroke-linejoin="round"/>
<path d="M1486.5 587a10.5 10.5 0 1 0 21 0a10.5 10.5 0 1 0 -21 0ZM1493.5 440a10.5 10.5 0 1 0 21 0a10.5 10.5 0 1 0 -21 0ZM1501.5 309a10.5 10.5 0 1 0 21 0a10.5 10.5 0 1 0 -21 0ZM1508.5 234.5a10.5 10.5 0 1 0 21 0a10.5 10.5 0 1 0 -21 0ZM1516.5 242a10.5 10.5 0 1 0 21 0a10.5 10.5 0 1 0 -21 0ZM1522.5 338a10.5 10.5 0 1 0 21 0a10.5 10.5 0 1 0 -21 0ZM1528.5 517a10.5 10.5 0 1 0 21 0a10.5 10.5 0 1 0 -21 0ZM1534.5 754a10.5 10.5 0 1 0 21 0a10.5 10.5 0 1 0 -21 0ZM1540.5 1016a10.5 10.5 0 1 0 21 0a10.5 10.5 0 1 0 -21 0ZM1547.5 1257a10.5 10.5 0 1 0 21 0a10.5 10.5 0 1 0 -21 0ZM1552.5 1426a10.5 10.5 0 1 0 21 0a10.5 10.5 0 1 0 -21 0ZM1558.5 1442a10.5 10.5 0 1 0 21 0a10.5 10.5 0 1 0 -21 0ZM1565.5 1430a10.5 10.5 0 1 0 21 0a10.5 10.5 0 1 0 -21 0ZM1572.5 1421a10.5 10.5 0 1 0 21 0a10.5 10.5 0 1 0 -21 0ZM1579.5 1419a10.5 10.5 0 1 0 21 0a10.5 10.5 0 1 0 -21 0ZM1586.5 1430a10.5 10.5 0 1 0 21 0a10.5 10.5 0 1 0 -21 0ZM1592.5 1444a10.5 10.5 0 1 0 21 0a10.5 10.5 0 1 0 -21 0ZM1598.5 1446a10.5 10.5 0 1 0 21 0a10.5 10.5 0 1 0 -21 0ZM1605.2 1446a10.5 10.5 0 1 0 21 0a10.5 10.5 0 1 0 -21 0ZM1611.9 1446a10.5 10.5 0 1 0 21 0a10.5 10.5 0 1 0 -21 0ZM1618.6 1446a10.5 10.5 0 1 0 21 0a10.5 10.5 0 1 0 -21 0ZM1625.3 1446a10.5 10.5 0 1 0 21 0a10.5 10.5 0 1 0 -21 0ZM1632 1446a10.5 10.5 0 1 0 21 0a10.5 10.5 0 1 0 -21 0ZM1638.7 1446a10.5 10.5 0 1 0 21 0a10.5 10.5 0 1 0 -21 0ZM1645.4 1446a10.5 10.5 0 1 0 21 0a10.5 10.5 0 1 0 -21 0ZM1652.1 1446a10.5 10.5 0 1 0 21 0a10.5 10.5 0 1 0 -21 0ZM1658.8 1446a10.5 10.5 0 1 0 21 0a10.5 10.5 0 1 0 -21 0ZM1665.5 1446a10.5 10.5 0 1 0 21 0a10.5 10.5 0 1 0 -21 0ZM1672.2 1446a10.5 10.5 0 1 0 21 0a10.5 10.5 0 1 0 -21 0ZM1678.9 1446a10.5 10.5 0 1 0 21 0a10.5 10.5 0 1 0 -21 0ZM1685.6 1446a10.5 10.5 0 1 0 21 0a10.5 10.5 0 1 0 -21 0ZM1692.3 1446a10.5 10.5 0 1 0 21 0a10.5 10.5 0 1 0 -21 0ZM1699 1446a10.5 10.5 0 1 0 21 0a10.5 10.5 0 1 0 -21 0ZM1705.7 1446a10.5 10.5 0 1 0 21 0a10.5 10.5 0 1 0 -21 0ZM1549.5 1446a10.5 10.5 0 1 0 21 0a10.5 10.5 0 1 0 -21 0ZM1556.5 1446a10.5 10.5 0 1 0 21 0a10.5 10.5 0 1 0 -21 0ZM1563.5 1446a10.5 10.5 0 1 0 21 0a10.5 10.5 0 1 0 -21 0Z" fill="#000000"/>
</g>
<rect x="1413.5" y="31.5" width="987" height="1468.5" fill="none" stroke="#000" stroke-width="3"/>
<path d="M1412.3 1500V1512M1441.9 1500V1512M1468 1500V1512M1645.1 1500V1512M1735 1500V1512M1798.8 1500V1512M1848.3 1500V1512M1888.7 1500V1512M1922.9 1500V1512M1952.5 1500V1512M1978.6 1500V1512M2155.7 1500V1512M2245.6 1500V1512M2309.4 1500V1512M2358.9 1500V1512M2399.3 1500V1512M1491.4 1500V1521M2002 1500V1521" stroke="#000" stroke-width="3" fill="none"/>
<text x="1491.4" y="1564" text-anchor="middle" font-family="'Liberation Sans', Arial, Helvetica, sans-serif" font-size="38">1</text>
<text x="2002" y="1564" text-anchor="middle" font-family="'Liberation Sans', Arial, Helvetica, sans-serif" font-size="38">10</text>
<text x="1664" y="1631" font-family="'Liberation Sans', Arial, Helvetica, sans-serif" font-weight="bold" font-size="46.6">Pore width / nm</text>
<text transform="translate(1327 1068.3) rotate(-90)" x="0" y="0" font-family="'Liberation Sans', Arial, Helvetica, sans-serif" font-weight="bold" font-size="48.6">Differential pore volume / a.u.</text>
<text x="1848" y="1729.5" text-anchor="middle" font-family="'Liberation Serif', 'Times New Roman', serif" font-size="76" letter-spacing="-2">(<tspan font-weight="bold">b</tspan>)</text>
<path d="M2134.5 86.8H2175.7M2209.7 86.8H2250.9" stroke="#00ff00" stroke-width="3.4" fill="none"/>
<path d="M2192.7 75.5L2195.8 83.8L2204.6 84.2L2197.7 89.7L2200 98.2L2192.7 93.3L2185.4 98.2L2187.7 89.7L2180.8 84.2L2189.6 83.8Z" fill="#00ff00"/>
<text x="2261" y="103.6" font-family="'Liberation Sans', Arial, Helvetica, sans-serif" font-weight="bold" font-size="47">DoA</text>
<path d="M2134.5 146.6H2175.7M2209.7 146.6H2250.9" stroke="#0000ff" stroke-width="3.4" fill="none"/>
<path d="M2192.7 162.6L2179.7 138.6L2205.7 138.6Z" fill="#0000ff"/>
<text x="2261" y="163.4" font-family="'Liberation Sans', Arial, Helvetica, sans-serif" font-weight="bold" font-size="47">DoR</text>
<path d="M2134.5 206.7H2175.7M2209.7 206.7H2250.9" stroke="#00ffff" stroke-width="3.4" fill="none"/>
<path d="M2181.9 195.9h21.5v21.5h-21.5Z" fill="#00ffff"/>
<text x="2261" y="223.5" font-family="'Liberation Sans', Arial, Helvetica, sans-serif" font-weight="bold" font-size="47">DoP</text>
<path d="M2134.5 267.1H2175.7M2209.7 267.1H2250.9" stroke="#ff0000" stroke-width="3.4" fill="none"/>
<path d="M2192.7 251.8L2205.7 274.8L2179.7 274.8Z" fill="#ff0000"/>
<text x="2261" y="283.9" font-family="'Liberation Sans', Arial, Helvetica, sans-serif" font-weight="bold" font-size="47">Do</text>
<path d="M2134.5 327.2H2175.7M2209.7 327.2H2250.9" stroke="#ff00ff" stroke-width="3.4" fill="none"/>
<path d="M2192.7 313.2L2205.7 327.2L2192.7 341.2L2179.7 327.2Z" fill="#fff" stroke="#ff00ff" stroke-width="1.7"/>
<text x="2261" y="344" font-family="'Liberation Sans', Arial, Helvetica, sans-serif" font-weight="bold" font-size="47">DoV</text>
<path d="M2134.5 387.3H2175.7M2209.7 387.3H2250.9" stroke="#333333" stroke-width="3.4" fill="none"/>
<path d="M2181.7 387.3a11 11 0 1 0 22 0a11 11 0 1 0 -22 0Z" fill="#000"/>
<text x="2261" y="404.1" font-family="'Liberation Sans', Arial, Helvetica, sans-serif" font-weight="bold" font-size="47">Dd</text>
</svg>
</body></html>
